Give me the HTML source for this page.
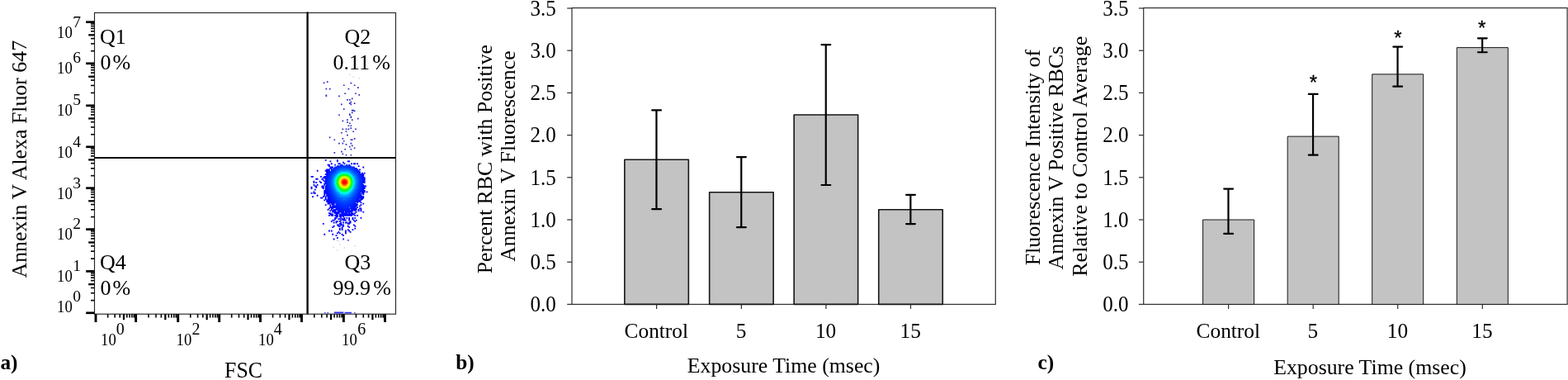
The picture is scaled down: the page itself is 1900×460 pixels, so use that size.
<!DOCTYPE html>
<html lang="en">
<head>
<meta charset="utf-8">
<title>Annexin V flow cytometry figure</title>
<style>
html,body{margin:0;padding:0;background:#fff;}
body{width:1900px;height:460px;overflow:hidden;}
svg{display:block;}
text{font-family:"Liberation Serif", "DejaVu Serif", serif;}
</style>
</head>
<body>
<svg width="1900" height="460" viewBox="0 0 1900 460" font-family='"Liberation Serif", "DejaVu Serif", serif' fill="#000">
<rect width="1900" height="460" fill="#fff"/>
<g id="panel-a">
<rect x="114.5" y="15.5" width="365.00" height="364.70" fill="none" stroke="#262626" stroke-width="1.15"/>
<g id="cloud" shape-rendering="auto">
<path fill="#0000ff" d="M406.24 260.23h2.53v1.43h-2.53zM406.79 259.68h1.43v2.53h-1.43zM396.25 243.12h2.53v1.43h-2.53zM396.80 242.57h1.43v2.53h-1.43zM396.25 241.70h2.53v1.43h-2.53zM396.80 241.15h1.43v2.53h-1.43zM437.60 238.85h2.53v1.43h-2.53zM438.15 238.30h1.43v2.53h-1.43z"/>
<path fill="#0005ff" d="M424.77 258.81h2.53v1.43h-2.53zM425.32 258.26h1.43v2.53h-1.43zM406.24 257.38h3.95v1.43h-3.95zM406.79 256.83h2.85v2.53h-2.85zM404.81 255.96h2.53v1.43h-2.53zM405.36 255.41h1.43v2.53h-1.43zM403.38 254.53h2.53v1.43h-2.53zM403.93 253.98h1.43v2.53h-1.43zM429.05 253.11h2.53v1.43h-2.53zM429.60 252.56h1.43v2.53h-1.43zM401.96 250.25h2.53v1.43h-2.53zM402.51 249.70h1.43v2.53h-1.43zM397.68 244.55h2.53v1.43h-2.53zM398.23 244.00h1.43v2.53h-1.43zM397.68 243.12h2.53v1.43h-2.53zM398.23 242.57h1.43v2.53h-1.43zM397.68 241.70h2.53v1.43h-2.53zM398.23 241.15h1.43v2.53h-1.43zM436.18 238.85h2.53v1.43h-2.53zM436.73 238.30h1.43v2.53h-1.43zM393.40 231.72h2.53v1.43h-2.53zM393.95 231.17h1.43v2.53h-1.43zM439.03 231.72h2.53v1.43h-2.53zM439.58 231.17h1.43v2.53h-1.43zM393.40 230.29h2.53v1.43h-2.53zM393.95 229.74h1.43v2.53h-1.43zM394.83 206.05h2.53v1.43h-2.53zM395.38 205.50h1.43v2.53h-1.43z"/>
<path fill="#000bff" d="M411.94 260.23h2.53v1.43h-2.53zM412.49 259.68h1.43v2.53h-1.43zM414.79 260.23h2.53v1.43h-2.53zM415.34 259.68h1.43v2.53h-1.43zM413.36 258.81h3.95v1.43h-3.95zM413.91 258.26h2.85v2.53h-2.85zM417.64 258.81h3.95v1.43h-3.95zM418.19 258.26h2.85v2.53h-2.85zM421.92 258.81h2.53v1.43h-2.53zM422.47 258.26h1.43v2.53h-1.43zM409.09 255.96h2.53v1.43h-2.53zM409.64 255.41h1.43v2.53h-1.43zM426.20 253.11h2.53v1.43h-2.53zM426.75 252.56h1.43v2.53h-1.43zM427.62 251.68h3.95v1.43h-3.95zM428.17 251.13h2.85v2.53h-2.85zM430.47 247.40h2.53v1.43h-2.53zM431.02 246.85h1.43v2.53h-1.43zM399.11 243.12h2.53v1.43h-2.53zM399.66 242.57h1.43v2.53h-1.43zM397.68 240.27h2.53v1.43h-2.53zM398.23 239.72h1.43v2.53h-1.43zM397.68 238.85h2.53v1.43h-2.53zM398.23 238.30h1.43v2.53h-1.43zM436.18 237.42h2.53v1.43h-2.53zM436.73 236.87h1.43v2.53h-1.43zM396.25 236.00h2.53v1.43h-2.53zM396.80 235.45h1.43v2.53h-1.43zM394.83 233.14h2.53v1.43h-2.53zM395.38 232.59h1.43v2.53h-1.43zM394.83 231.72h2.53v1.43h-2.53zM395.38 231.17h1.43v2.53h-1.43zM437.60 231.72h2.53v1.43h-2.53zM438.15 231.17h1.43v2.53h-1.43zM439.03 230.29h2.53v1.43h-2.53zM439.58 229.74h1.43v2.53h-1.43zM439.03 227.44h2.53v1.43h-2.53zM439.58 226.89h1.43v2.53h-1.43zM396.25 206.05h2.53v1.43h-2.53zM396.80 205.50h1.43v2.53h-1.43z"/>
<path fill="#0010ff" d="M416.22 258.81h2.53v1.43h-2.53zM416.77 258.26h1.43v2.53h-1.43zM414.79 257.38h2.53v1.43h-2.53zM415.34 256.83h1.43v2.53h-1.43zM417.64 257.38h2.53v1.43h-2.53zM418.19 256.83h1.43v2.53h-1.43zM413.36 255.96h2.53v1.43h-2.53zM413.91 255.41h1.43v2.53h-1.43zM419.07 255.96h2.53v1.43h-2.53zM419.62 255.41h1.43v2.53h-1.43zM421.92 255.96h2.53v1.43h-2.53zM422.47 255.41h1.43v2.53h-1.43zM410.51 254.53h2.53v1.43h-2.53zM411.06 253.98h1.43v2.53h-1.43zM421.92 254.53h2.53v1.43h-2.53zM422.47 253.98h1.43v2.53h-1.43zM424.77 254.53h2.53v1.43h-2.53zM425.32 253.98h1.43v2.53h-1.43zM426.20 251.68h2.53v1.43h-2.53zM426.75 251.13h1.43v2.53h-1.43zM427.62 250.25h2.53v1.43h-2.53zM428.17 249.70h1.43v2.53h-1.43zM403.38 248.83h2.53v1.43h-2.53zM403.93 248.28h1.43v2.53h-1.43zM427.62 248.83h3.95v1.43h-3.95zM428.17 248.28h2.85v2.53h-2.85zM429.05 247.40h2.53v1.43h-2.53zM429.60 246.85h1.43v2.53h-1.43zM401.96 245.98h2.53v1.43h-2.53zM402.51 245.43h1.43v2.53h-1.43zM400.53 244.55h3.95v1.43h-3.95zM401.08 244.00h2.85v2.53h-2.85zM400.53 243.12h2.53v1.43h-2.53zM401.08 242.57h1.43v2.53h-1.43zM431.90 243.12h2.53v1.43h-2.53zM432.45 242.57h1.43v2.53h-1.43zM399.11 241.70h2.53v1.43h-2.53zM399.66 241.15h1.43v2.53h-1.43zM433.32 241.70h2.53v1.43h-2.53zM433.88 241.15h1.43v2.53h-1.43zM399.11 240.27h2.53v1.43h-2.53zM399.66 239.72h1.43v2.53h-1.43zM397.68 237.42h2.53v1.43h-2.53zM398.23 236.87h1.43v2.53h-1.43zM434.75 237.42h2.53v1.43h-2.53zM435.30 236.87h1.43v2.53h-1.43zM397.68 236.00h2.53v1.43h-2.53zM398.23 235.45h1.43v2.53h-1.43zM396.25 234.57h2.53v1.43h-2.53zM396.80 234.02h1.43v2.53h-1.43zM396.25 233.14h2.53v1.43h-2.53zM396.80 232.59h1.43v2.53h-1.43zM394.83 230.29h2.53v1.43h-2.53zM395.38 229.74h1.43v2.53h-1.43zM437.60 230.29h2.53v1.43h-2.53zM438.15 229.74h1.43v2.53h-1.43zM394.83 228.87h2.53v1.43h-2.53zM395.38 228.32h1.43v2.53h-1.43zM437.60 228.87h2.53v1.43h-2.53zM438.15 228.32h1.43v2.53h-1.43zM439.03 226.02h2.53v1.43h-2.53zM439.58 225.47h1.43v2.53h-1.43zM439.03 224.59h2.53v1.43h-2.53zM439.58 224.04h1.43v2.53h-1.43zM393.40 218.89h2.53v1.43h-2.53zM393.95 218.34h1.43v2.53h-1.43zM439.03 218.89h2.53v1.43h-2.53zM439.58 218.34h1.43v2.53h-1.43zM439.03 217.46h2.53v1.43h-2.53zM439.58 216.91h1.43v2.53h-1.43zM439.03 216.04h2.53v1.43h-2.53zM439.58 215.49h1.43v2.53h-1.43zM393.40 214.61h2.53v1.43h-2.53zM393.95 214.06h1.43v2.53h-1.43zM439.03 214.61h2.53v1.43h-2.53zM439.58 214.06h1.43v2.53h-1.43zM437.60 211.76h2.53v1.43h-2.53zM438.15 211.21h1.43v2.53h-1.43zM394.83 210.33h2.53v1.43h-2.53zM395.38 209.78h1.43v2.53h-1.43zM437.60 210.33h2.53v1.43h-2.53zM438.15 209.78h1.43v2.53h-1.43zM396.25 208.91h2.53v1.43h-2.53zM396.80 208.36h1.43v2.53h-1.43zM396.25 207.48h2.53v1.43h-2.53zM396.80 206.93h1.43v2.53h-1.43z"/>
<path fill="#0015ff" d="M411.94 254.53h5.38v1.43h-5.38zM412.49 253.98h4.28v2.53h-4.28zM417.64 254.53h5.38v1.43h-5.38zM418.19 253.98h4.28v2.53h-4.28zM409.09 253.11h6.80v1.43h-6.80zM409.64 252.56h5.70v2.53h-5.70zM420.49 253.11h2.53v1.43h-2.53zM421.04 252.56h1.43v2.53h-1.43zM407.66 251.68h3.95v1.43h-3.95zM408.21 251.13h2.85v2.53h-2.85zM424.77 251.68h2.53v1.43h-2.53zM425.32 251.13h1.43v2.53h-1.43zM406.24 250.25h3.95v1.43h-3.95zM406.79 249.70h2.85v2.53h-2.85zM424.77 250.25h3.95v1.43h-3.95zM425.32 249.70h2.85v2.53h-2.85zM406.24 248.83h2.53v1.43h-2.53zM406.79 248.28h1.43v2.53h-1.43zM426.20 248.83h2.53v1.43h-2.53zM426.75 248.28h1.43v2.53h-1.43zM427.62 247.40h2.53v1.43h-2.53zM428.17 246.85h1.43v2.53h-1.43zM429.05 245.98h2.53v1.43h-2.53zM429.60 245.43h1.43v2.53h-1.43zM403.38 244.55h2.53v1.43h-2.53zM403.93 244.00h1.43v2.53h-1.43zM401.96 243.12h2.53v1.43h-2.53zM402.51 242.57h1.43v2.53h-1.43zM400.53 241.70h2.53v1.43h-2.53zM401.08 241.15h1.43v2.53h-1.43zM431.90 241.70h2.53v1.43h-2.53zM432.45 241.15h1.43v2.53h-1.43zM400.53 240.27h2.53v1.43h-2.53zM401.08 239.72h1.43v2.53h-1.43zM431.90 240.27h2.53v1.43h-2.53zM432.45 239.72h1.43v2.53h-1.43zM399.11 238.85h2.53v1.43h-2.53zM399.66 238.30h1.43v2.53h-1.43zM433.32 238.85h2.53v1.43h-2.53zM433.88 238.30h1.43v2.53h-1.43zM399.11 237.42h2.53v1.43h-2.53zM399.66 236.87h1.43v2.53h-1.43zM433.32 237.42h2.53v1.43h-2.53zM433.88 236.87h1.43v2.53h-1.43zM434.75 236.00h2.53v1.43h-2.53zM435.30 235.45h1.43v2.53h-1.43zM397.68 234.57h2.53v1.43h-2.53zM398.23 234.02h1.43v2.53h-1.43zM434.75 234.57h2.53v1.43h-2.53zM435.30 234.02h1.43v2.53h-1.43zM397.68 233.14h2.53v1.43h-2.53zM398.23 232.59h1.43v2.53h-1.43zM396.25 231.72h2.53v1.43h-2.53zM396.80 231.17h1.43v2.53h-1.43zM396.25 230.29h2.53v1.43h-2.53zM396.80 229.74h1.43v2.53h-1.43zM436.18 230.29h2.53v1.43h-2.53zM436.73 229.74h1.43v2.53h-1.43zM396.25 228.87h2.53v1.43h-2.53zM396.80 228.32h1.43v2.53h-1.43zM394.83 227.44h2.53v1.43h-2.53zM395.38 226.89h1.43v2.53h-1.43zM437.60 227.44h2.53v1.43h-2.53zM438.15 226.89h1.43v2.53h-1.43zM394.83 226.02h2.53v1.43h-2.53zM395.38 225.47h1.43v2.53h-1.43zM437.60 226.02h2.53v1.43h-2.53zM438.15 225.47h1.43v2.53h-1.43zM394.83 224.59h2.53v1.43h-2.53zM395.38 224.04h1.43v2.53h-1.43zM437.60 224.59h2.53v1.43h-2.53zM438.15 224.04h1.43v2.53h-1.43zM437.60 223.16h2.53v1.43h-2.53zM438.15 222.61h1.43v2.53h-1.43zM394.83 217.46h2.53v1.43h-2.53zM395.38 216.91h1.43v2.53h-1.43zM394.83 216.04h2.53v1.43h-2.53zM395.38 215.49h1.43v2.53h-1.43zM437.60 216.04h2.53v1.43h-2.53zM438.15 215.49h1.43v2.53h-1.43zM394.83 214.61h2.53v1.43h-2.53zM395.38 214.06h1.43v2.53h-1.43zM437.60 214.61h2.53v1.43h-2.53zM438.15 214.06h1.43v2.53h-1.43zM394.83 213.18h2.53v1.43h-2.53zM395.38 212.63h1.43v2.53h-1.43zM437.60 213.18h2.53v1.43h-2.53zM438.15 212.63h1.43v2.53h-1.43zM396.25 210.33h2.53v1.43h-2.53zM396.80 209.78h1.43v2.53h-1.43zM397.68 207.48h2.53v1.43h-2.53zM398.23 206.93h1.43v2.53h-1.43z"/>
<path fill="#001fff" d="M414.79 253.11h6.80v1.43h-6.80zM415.34 252.56h5.70v2.53h-5.70zM410.51 251.68h12.51v1.43h-12.51zM411.06 251.13h11.41v2.53h-11.41zM409.09 250.25h5.38v1.43h-5.38zM409.64 249.70h4.28v2.53h-4.28zM407.66 248.83h3.95v1.43h-3.95zM408.21 248.28h2.85v2.53h-2.85zM423.34 248.83h3.95v1.43h-3.95zM423.89 248.28h2.85v2.53h-2.85zM407.66 247.40h2.53v1.43h-2.53zM408.21 246.85h1.43v2.53h-1.43zM424.77 247.40h3.95v1.43h-3.95zM425.32 246.85h2.85v2.53h-2.85zM426.20 245.98h3.95v1.43h-3.95zM426.75 245.43h2.85v2.53h-2.85zM427.62 244.55h2.53v1.43h-2.53zM428.17 244.00h1.43v2.53h-1.43zM403.38 243.12h2.53v1.43h-2.53zM403.93 242.57h1.43v2.53h-1.43zM429.05 243.12h2.53v1.43h-2.53zM429.60 242.57h1.43v2.53h-1.43zM401.96 241.70h3.95v1.43h-3.95zM402.51 241.15h2.85v2.53h-2.85zM429.05 241.70h3.95v1.43h-3.95zM429.60 241.15h2.85v2.53h-2.85zM401.96 240.27h2.53v1.43h-2.53zM402.51 239.72h1.43v2.53h-1.43zM430.47 240.27h2.53v1.43h-2.53zM431.02 239.72h1.43v2.53h-1.43zM400.53 238.85h2.53v1.43h-2.53zM401.08 238.30h1.43v2.53h-1.43zM431.90 238.85h2.53v1.43h-2.53zM432.45 238.30h1.43v2.53h-1.43zM400.53 237.42h2.53v1.43h-2.53zM401.08 236.87h1.43v2.53h-1.43zM431.90 237.42h2.53v1.43h-2.53zM432.45 236.87h1.43v2.53h-1.43zM399.11 236.00h2.53v1.43h-2.53zM399.66 235.45h1.43v2.53h-1.43zM433.32 236.00h2.53v1.43h-2.53zM433.88 235.45h1.43v2.53h-1.43zM399.11 234.57h2.53v1.43h-2.53zM399.66 234.02h1.43v2.53h-1.43zM433.32 234.57h2.53v1.43h-2.53zM433.88 234.02h1.43v2.53h-1.43zM397.68 231.72h2.53v1.43h-2.53zM398.23 231.17h1.43v2.53h-1.43zM434.75 231.72h2.53v1.43h-2.53zM435.30 231.17h1.43v2.53h-1.43zM397.68 230.29h2.53v1.43h-2.53zM398.23 229.74h1.43v2.53h-1.43zM434.75 230.29h2.53v1.43h-2.53zM435.30 229.74h1.43v2.53h-1.43zM436.18 228.87h2.53v1.43h-2.53zM436.73 228.32h1.43v2.53h-1.43zM396.25 227.44h2.53v1.43h-2.53zM396.80 226.89h1.43v2.53h-1.43zM436.18 227.44h2.53v1.43h-2.53zM436.73 226.89h1.43v2.53h-1.43zM396.25 226.02h2.53v1.43h-2.53zM396.80 225.47h1.43v2.53h-1.43zM436.18 226.02h2.53v1.43h-2.53zM436.73 225.47h1.43v2.53h-1.43zM394.83 221.74h2.53v1.43h-2.53zM395.38 221.19h1.43v2.53h-1.43zM394.83 220.31h2.53v1.43h-2.53zM395.38 219.76h1.43v2.53h-1.43zM437.60 220.31h2.53v1.43h-2.53zM438.15 219.76h1.43v2.53h-1.43zM394.83 218.89h2.53v1.43h-2.53zM395.38 218.34h1.43v2.53h-1.43zM437.60 218.89h2.53v1.43h-2.53zM438.15 218.34h1.43v2.53h-1.43zM437.60 217.46h2.53v1.43h-2.53zM438.15 216.91h1.43v2.53h-1.43zM396.25 214.61h2.53v1.43h-2.53zM396.80 214.06h1.43v2.53h-1.43zM436.18 214.61h2.53v1.43h-2.53zM436.73 214.06h1.43v2.53h-1.43zM396.25 213.18h2.53v1.43h-2.53zM396.80 212.63h1.43v2.53h-1.43zM436.18 213.18h2.53v1.43h-2.53zM436.73 212.63h1.43v2.53h-1.43zM396.25 211.76h2.53v1.43h-2.53zM396.80 211.21h1.43v2.53h-1.43zM436.18 211.76h2.53v1.43h-2.53zM436.73 211.21h1.43v2.53h-1.43zM397.68 210.33h2.53v1.43h-2.53zM398.23 209.78h1.43v2.53h-1.43zM434.75 210.33h2.53v1.43h-2.53zM435.30 209.78h1.43v2.53h-1.43zM397.68 208.91h2.53v1.43h-2.53zM398.23 208.36h1.43v2.53h-1.43zM433.32 207.48h2.53v1.43h-2.53zM433.88 206.93h1.43v2.53h-1.43zM431.90 206.05h2.53v1.43h-2.53zM432.45 205.50h1.43v2.53h-1.43zM430.47 204.63h2.53v1.43h-2.53zM431.02 204.08h1.43v2.53h-1.43z"/>
<path fill="#0028ff" d="M413.36 250.25h8.23v1.43h-8.23zM413.91 249.70h7.13v2.53h-7.13zM410.51 248.83h6.80v1.43h-6.80zM411.06 248.28h5.70v2.53h-5.70zM417.64 248.83h5.38v1.43h-5.38zM418.19 248.28h4.28v2.53h-4.28zM409.09 247.40h3.95v1.43h-3.95zM409.64 246.85h2.85v2.53h-2.85zM421.92 247.40h3.95v1.43h-3.95zM422.47 246.85h2.85v2.53h-2.85zM407.66 245.98h3.95v1.43h-3.95zM408.21 245.43h2.85v2.53h-2.85zM423.34 245.98h3.95v1.43h-3.95zM423.89 245.43h2.85v2.53h-2.85zM406.24 244.55h2.53v1.43h-2.53zM406.79 244.00h1.43v2.53h-1.43zM426.20 244.55h2.53v1.43h-2.53zM426.75 244.00h1.43v2.53h-1.43zM404.81 243.12h3.95v1.43h-3.95zM405.36 242.57h2.85v2.53h-2.85zM427.62 243.12h2.53v1.43h-2.53zM428.17 242.57h1.43v2.53h-1.43zM404.81 241.70h2.53v1.43h-2.53zM405.36 241.15h1.43v2.53h-1.43zM427.62 241.70h2.53v1.43h-2.53zM428.17 241.15h1.43v2.53h-1.43zM403.38 240.27h2.53v1.43h-2.53zM403.93 239.72h1.43v2.53h-1.43zM429.05 240.27h2.53v1.43h-2.53zM429.60 239.72h1.43v2.53h-1.43zM401.96 238.85h2.53v1.43h-2.53zM402.51 238.30h1.43v2.53h-1.43zM430.47 238.85h2.53v1.43h-2.53zM431.02 238.30h1.43v2.53h-1.43zM401.96 237.42h2.53v1.43h-2.53zM402.51 236.87h1.43v2.53h-1.43zM430.47 237.42h2.53v1.43h-2.53zM431.02 236.87h1.43v2.53h-1.43zM400.53 236.00h2.53v1.43h-2.53zM401.08 235.45h1.43v2.53h-1.43zM431.90 236.00h2.53v1.43h-2.53zM432.45 235.45h1.43v2.53h-1.43zM400.53 234.57h2.53v1.43h-2.53zM401.08 234.02h1.43v2.53h-1.43zM431.90 234.57h2.53v1.43h-2.53zM432.45 234.02h1.43v2.53h-1.43zM399.11 233.14h2.53v1.43h-2.53zM399.66 232.59h1.43v2.53h-1.43zM433.32 233.14h2.53v1.43h-2.53zM433.88 232.59h1.43v2.53h-1.43zM399.11 231.72h2.53v1.43h-2.53zM399.66 231.17h1.43v2.53h-1.43zM433.32 231.72h2.53v1.43h-2.53zM433.88 231.17h1.43v2.53h-1.43zM397.68 228.87h2.53v1.43h-2.53zM398.23 228.32h1.43v2.53h-1.43zM434.75 228.87h2.53v1.43h-2.53zM435.30 228.32h1.43v2.53h-1.43zM397.68 227.44h2.53v1.43h-2.53zM398.23 226.89h1.43v2.53h-1.43zM434.75 227.44h2.53v1.43h-2.53zM435.30 226.89h1.43v2.53h-1.43zM396.25 224.59h2.53v1.43h-2.53zM396.80 224.04h1.43v2.53h-1.43zM436.18 224.59h2.53v1.43h-2.53zM436.73 224.04h1.43v2.53h-1.43zM396.25 223.16h2.53v1.43h-2.53zM396.80 222.61h1.43v2.53h-1.43zM436.18 223.16h2.53v1.43h-2.53zM436.73 222.61h1.43v2.53h-1.43zM396.25 221.74h2.53v1.43h-2.53zM396.80 221.19h1.43v2.53h-1.43zM436.18 221.74h2.53v1.43h-2.53zM436.73 221.19h1.43v2.53h-1.43zM396.25 220.31h2.53v1.43h-2.53zM396.80 219.76h1.43v2.53h-1.43zM436.18 220.31h2.53v1.43h-2.53zM436.73 219.76h1.43v2.53h-1.43zM396.25 218.89h2.53v1.43h-2.53zM396.80 218.34h1.43v2.53h-1.43zM436.18 218.89h2.53v1.43h-2.53zM436.73 218.34h1.43v2.53h-1.43zM396.25 217.46h2.53v1.43h-2.53zM396.80 216.91h1.43v2.53h-1.43zM436.18 217.46h2.53v1.43h-2.53zM436.73 216.91h1.43v2.53h-1.43zM396.25 216.04h2.53v1.43h-2.53zM396.80 215.49h1.43v2.53h-1.43zM436.18 216.04h2.53v1.43h-2.53zM436.73 215.49h1.43v2.53h-1.43zM397.68 213.18h2.53v1.43h-2.53zM398.23 212.63h1.43v2.53h-1.43zM434.75 213.18h2.53v1.43h-2.53zM435.30 212.63h1.43v2.53h-1.43zM397.68 211.76h2.53v1.43h-2.53zM398.23 211.21h1.43v2.53h-1.43zM434.75 211.76h2.53v1.43h-2.53zM435.30 211.21h1.43v2.53h-1.43zM399.11 210.33h2.53v1.43h-2.53zM399.66 209.78h1.43v2.53h-1.43zM399.11 208.91h2.53v1.43h-2.53zM399.66 208.36h1.43v2.53h-1.43zM433.32 208.91h2.53v1.43h-2.53zM433.88 208.36h1.43v2.53h-1.43zM400.53 207.48h2.53v1.43h-2.53zM401.08 206.93h1.43v2.53h-1.43zM431.90 207.48h2.53v1.43h-2.53zM432.45 206.93h1.43v2.53h-1.43zM401.96 206.05h2.53v1.43h-2.53zM402.51 205.50h1.43v2.53h-1.43zM430.47 206.05h2.53v1.43h-2.53zM431.02 205.50h1.43v2.53h-1.43zM403.38 204.63h2.53v1.43h-2.53zM403.93 204.08h1.43v2.53h-1.43zM429.05 204.63h2.53v1.43h-2.53zM429.60 204.08h1.43v2.53h-1.43zM404.81 203.20h2.53v1.43h-2.53zM405.36 202.65h1.43v2.53h-1.43zM427.62 203.20h2.53v1.43h-2.53zM428.17 202.65h1.43v2.53h-1.43zM407.66 201.78h2.53v1.43h-2.53zM408.21 201.23h1.43v2.53h-1.43zM411.94 200.35h3.95v1.43h-3.95zM412.49 199.80h2.85v2.53h-2.85zM419.07 200.35h2.53v1.43h-2.53zM419.62 199.80h1.43v2.53h-1.43zM421.92 200.35h2.53v1.43h-2.53zM422.47 199.80h1.43v2.53h-1.43z"/>
<path fill="#0032ff" d="M416.22 248.83h2.53v1.43h-2.53zM416.77 248.28h1.43v2.53h-1.43zM411.94 247.40h11.08v1.43h-11.08zM412.49 246.85h9.98v2.53h-9.98zM410.51 245.98h3.95v1.43h-3.95zM411.06 245.43h2.85v2.53h-2.85zM420.49 245.98h3.95v1.43h-3.95zM421.04 245.43h2.85v2.53h-2.85zM407.66 244.55h3.95v1.43h-3.95zM408.21 244.00h2.85v2.53h-2.85zM423.34 244.55h3.95v1.43h-3.95zM423.89 244.00h2.85v2.53h-2.85zM407.66 243.12h2.53v1.43h-2.53zM408.21 242.57h1.43v2.53h-1.43zM424.77 243.12h3.95v1.43h-3.95zM425.32 242.57h2.85v2.53h-2.85zM406.24 241.70h2.53v1.43h-2.53zM406.79 241.15h1.43v2.53h-1.43zM426.20 241.70h2.53v1.43h-2.53zM426.75 241.15h1.43v2.53h-1.43zM404.81 240.27h2.53v1.43h-2.53zM405.36 239.72h1.43v2.53h-1.43zM427.62 240.27h2.53v1.43h-2.53zM428.17 239.72h1.43v2.53h-1.43zM403.38 238.85h2.53v1.43h-2.53zM403.93 238.30h1.43v2.53h-1.43zM429.05 238.85h2.53v1.43h-2.53zM429.60 238.30h1.43v2.53h-1.43zM403.38 237.42h2.53v1.43h-2.53zM403.93 236.87h1.43v2.53h-1.43zM429.05 237.42h2.53v1.43h-2.53zM429.60 236.87h1.43v2.53h-1.43zM401.96 236.00h2.53v1.43h-2.53zM402.51 235.45h1.43v2.53h-1.43zM430.47 236.00h2.53v1.43h-2.53zM431.02 235.45h1.43v2.53h-1.43zM401.96 234.57h2.53v1.43h-2.53zM402.51 234.02h1.43v2.53h-1.43zM430.47 234.57h2.53v1.43h-2.53zM431.02 234.02h1.43v2.53h-1.43zM400.53 233.14h2.53v1.43h-2.53zM401.08 232.59h1.43v2.53h-1.43zM431.90 233.14h2.53v1.43h-2.53zM432.45 232.59h1.43v2.53h-1.43zM400.53 231.72h2.53v1.43h-2.53zM401.08 231.17h1.43v2.53h-1.43zM431.90 231.72h2.53v1.43h-2.53zM432.45 231.17h1.43v2.53h-1.43zM399.11 230.29h2.53v1.43h-2.53zM399.66 229.74h1.43v2.53h-1.43zM433.32 230.29h2.53v1.43h-2.53zM433.88 229.74h1.43v2.53h-1.43zM399.11 228.87h2.53v1.43h-2.53zM399.66 228.32h1.43v2.53h-1.43zM433.32 228.87h2.53v1.43h-2.53zM433.88 228.32h1.43v2.53h-1.43zM397.68 226.02h2.53v1.43h-2.53zM398.23 225.47h1.43v2.53h-1.43zM434.75 226.02h2.53v1.43h-2.53zM435.30 225.47h1.43v2.53h-1.43zM397.68 224.59h2.53v1.43h-2.53zM398.23 224.04h1.43v2.53h-1.43zM434.75 224.59h2.53v1.43h-2.53zM435.30 224.04h1.43v2.53h-1.43zM397.68 223.16h2.53v1.43h-2.53zM398.23 222.61h1.43v2.53h-1.43zM434.75 223.16h2.53v1.43h-2.53zM435.30 222.61h1.43v2.53h-1.43zM397.68 221.74h2.53v1.43h-2.53zM398.23 221.19h1.43v2.53h-1.43zM434.75 221.74h2.53v1.43h-2.53zM435.30 221.19h1.43v2.53h-1.43zM397.68 220.31h2.53v1.43h-2.53zM398.23 219.76h1.43v2.53h-1.43zM434.75 220.31h2.53v1.43h-2.53zM435.30 219.76h1.43v2.53h-1.43zM397.68 218.89h2.53v1.43h-2.53zM398.23 218.34h1.43v2.53h-1.43zM434.75 218.89h2.53v1.43h-2.53zM435.30 218.34h1.43v2.53h-1.43zM397.68 217.46h2.53v1.43h-2.53zM398.23 216.91h1.43v2.53h-1.43zM434.75 217.46h2.53v1.43h-2.53zM435.30 216.91h1.43v2.53h-1.43zM397.68 216.04h2.53v1.43h-2.53zM398.23 215.49h1.43v2.53h-1.43zM434.75 216.04h2.53v1.43h-2.53zM435.30 215.49h1.43v2.53h-1.43zM397.68 214.61h2.53v1.43h-2.53zM398.23 214.06h1.43v2.53h-1.43zM434.75 214.61h2.53v1.43h-2.53zM435.30 214.06h1.43v2.53h-1.43zM399.11 211.76h2.53v1.43h-2.53zM399.66 211.21h1.43v2.53h-1.43zM433.32 211.76h2.53v1.43h-2.53zM433.88 211.21h1.43v2.53h-1.43zM433.32 210.33h2.53v1.43h-2.53zM433.88 209.78h1.43v2.53h-1.43zM400.53 208.91h2.53v1.43h-2.53zM401.08 208.36h1.43v2.53h-1.43zM431.90 208.91h2.53v1.43h-2.53zM432.45 208.36h1.43v2.53h-1.43zM401.96 207.48h2.53v1.43h-2.53zM402.51 206.93h1.43v2.53h-1.43zM430.47 207.48h2.53v1.43h-2.53zM431.02 206.93h1.43v2.53h-1.43zM403.38 206.05h2.53v1.43h-2.53zM403.93 205.50h1.43v2.53h-1.43zM429.05 206.05h2.53v1.43h-2.53zM429.60 205.50h1.43v2.53h-1.43zM404.81 204.63h2.53v1.43h-2.53zM405.36 204.08h1.43v2.53h-1.43zM427.62 204.63h2.53v1.43h-2.53zM428.17 204.08h1.43v2.53h-1.43zM406.24 203.20h3.95v1.43h-3.95zM406.79 202.65h2.85v2.53h-2.85zM424.77 203.20h3.95v1.43h-3.95zM425.32 202.65h2.85v2.53h-2.85zM409.09 201.78h3.95v1.43h-3.95zM409.64 201.23h2.85v2.53h-2.85zM421.92 201.78h3.95v1.43h-3.95zM422.47 201.23h2.85v2.53h-2.85z"/>
<path fill="#003cff" d="M413.36 245.98h8.23v1.43h-8.23zM413.91 245.43h7.13v2.53h-7.13zM410.51 244.55h6.80v1.43h-6.80zM411.06 244.00h5.70v2.53h-5.70zM417.64 244.55h6.80v1.43h-6.80zM418.19 244.00h5.70v2.53h-5.70zM409.09 243.12h3.95v1.43h-3.95zM409.64 242.57h2.85v2.53h-2.85zM421.92 243.12h3.95v1.43h-3.95zM422.47 242.57h2.85v2.53h-2.85zM407.66 241.70h3.95v1.43h-3.95zM408.21 241.15h2.85v2.53h-2.85zM423.34 241.70h3.95v1.43h-3.95zM423.89 241.15h2.85v2.53h-2.85zM406.24 240.27h2.53v1.43h-2.53zM406.79 239.72h1.43v2.53h-1.43zM426.20 240.27h2.53v1.43h-2.53zM426.75 239.72h1.43v2.53h-1.43zM404.81 238.85h3.95v1.43h-3.95zM405.36 238.30h2.85v2.53h-2.85zM426.20 238.85h3.95v1.43h-3.95zM426.75 238.30h2.85v2.53h-2.85zM404.81 237.42h2.53v1.43h-2.53zM405.36 236.87h1.43v2.53h-1.43zM427.62 237.42h2.53v1.43h-2.53zM428.17 236.87h1.43v2.53h-1.43zM403.38 236.00h2.53v1.43h-2.53zM403.93 235.45h1.43v2.53h-1.43zM429.05 236.00h2.53v1.43h-2.53zM429.60 235.45h1.43v2.53h-1.43zM403.38 234.57h2.53v1.43h-2.53zM403.93 234.02h1.43v2.53h-1.43zM401.96 233.14h2.53v1.43h-2.53zM402.51 232.59h1.43v2.53h-1.43zM430.47 233.14h2.53v1.43h-2.53zM431.02 232.59h1.43v2.53h-1.43zM400.53 230.29h2.53v1.43h-2.53zM401.08 229.74h1.43v2.53h-1.43zM431.90 230.29h2.53v1.43h-2.53zM432.45 229.74h1.43v2.53h-1.43zM400.53 228.87h2.53v1.43h-2.53zM401.08 228.32h1.43v2.53h-1.43zM431.90 228.87h2.53v1.43h-2.53zM432.45 228.32h1.43v2.53h-1.43zM399.11 227.44h2.53v1.43h-2.53zM399.66 226.89h1.43v2.53h-1.43zM433.32 227.44h2.53v1.43h-2.53zM433.88 226.89h1.43v2.53h-1.43zM399.11 226.02h2.53v1.43h-2.53zM399.66 225.47h1.43v2.53h-1.43zM433.32 226.02h2.53v1.43h-2.53zM433.88 225.47h1.43v2.53h-1.43zM399.11 224.59h2.53v1.43h-2.53zM399.66 224.04h1.43v2.53h-1.43zM433.32 224.59h2.53v1.43h-2.53zM433.88 224.04h1.43v2.53h-1.43zM399.11 216.04h2.53v1.43h-2.53zM399.66 215.49h1.43v2.53h-1.43zM399.11 214.61h2.53v1.43h-2.53zM399.66 214.06h1.43v2.53h-1.43zM433.32 214.61h2.53v1.43h-2.53zM433.88 214.06h1.43v2.53h-1.43zM399.11 213.18h2.53v1.43h-2.53zM399.66 212.63h1.43v2.53h-1.43zM433.32 213.18h2.53v1.43h-2.53zM433.88 212.63h1.43v2.53h-1.43zM400.53 211.76h2.53v1.43h-2.53zM401.08 211.21h1.43v2.53h-1.43zM431.90 211.76h2.53v1.43h-2.53zM432.45 211.21h1.43v2.53h-1.43zM400.53 210.33h2.53v1.43h-2.53zM401.08 209.78h1.43v2.53h-1.43zM431.90 210.33h2.53v1.43h-2.53zM432.45 209.78h1.43v2.53h-1.43zM401.96 208.91h2.53v1.43h-2.53zM402.51 208.36h1.43v2.53h-1.43zM430.47 208.91h2.53v1.43h-2.53zM431.02 208.36h1.43v2.53h-1.43zM403.38 207.48h2.53v1.43h-2.53zM403.93 206.93h1.43v2.53h-1.43zM429.05 207.48h2.53v1.43h-2.53zM429.60 206.93h1.43v2.53h-1.43zM404.81 206.05h2.53v1.43h-2.53zM405.36 205.50h1.43v2.53h-1.43zM427.62 206.05h2.53v1.43h-2.53zM428.17 205.50h1.43v2.53h-1.43zM406.24 204.63h2.53v1.43h-2.53zM406.79 204.08h1.43v2.53h-1.43zM426.20 204.63h2.53v1.43h-2.53zM426.75 204.08h1.43v2.53h-1.43zM409.09 203.20h2.53v1.43h-2.53zM409.64 202.65h1.43v2.53h-1.43zM423.34 203.20h2.53v1.43h-2.53zM423.89 202.65h1.43v2.53h-1.43zM411.94 201.78h11.08v1.43h-11.08zM412.49 201.23h9.98v2.53h-9.98z"/>
<path fill="#004cff" d="M416.22 244.55h2.53v1.43h-2.53zM416.77 244.00h1.43v2.53h-1.43zM411.94 243.12h11.08v1.43h-11.08zM412.49 242.57h9.98v2.53h-9.98zM410.51 241.70h3.95v1.43h-3.95zM411.06 241.15h2.85v2.53h-2.85zM420.49 241.70h3.95v1.43h-3.95zM421.04 241.15h2.85v2.53h-2.85zM407.66 240.27h3.95v1.43h-3.95zM408.21 239.72h2.85v2.53h-2.85zM423.34 240.27h3.95v1.43h-3.95zM423.89 239.72h2.85v2.53h-2.85zM407.66 238.85h2.53v1.43h-2.53zM408.21 238.30h1.43v2.53h-1.43zM424.77 238.85h2.53v1.43h-2.53zM425.32 238.30h1.43v2.53h-1.43zM406.24 237.42h2.53v1.43h-2.53zM406.79 236.87h1.43v2.53h-1.43zM426.20 237.42h2.53v1.43h-2.53zM426.75 236.87h1.43v2.53h-1.43zM404.81 236.00h2.53v1.43h-2.53zM405.36 235.45h1.43v2.53h-1.43zM427.62 236.00h2.53v1.43h-2.53zM428.17 235.45h1.43v2.53h-1.43zM429.05 234.57h2.53v1.43h-2.53zM429.60 234.02h1.43v2.53h-1.43zM403.38 233.14h2.53v1.43h-2.53zM403.93 232.59h1.43v2.53h-1.43zM429.05 233.14h2.53v1.43h-2.53zM429.60 232.59h1.43v2.53h-1.43zM401.96 231.72h2.53v1.43h-2.53zM402.51 231.17h1.43v2.53h-1.43zM430.47 231.72h2.53v1.43h-2.53zM431.02 231.17h1.43v2.53h-1.43zM401.96 230.29h2.53v1.43h-2.53zM402.51 229.74h1.43v2.53h-1.43zM430.47 230.29h2.53v1.43h-2.53zM431.02 229.74h1.43v2.53h-1.43zM400.53 227.44h2.53v1.43h-2.53zM401.08 226.89h1.43v2.53h-1.43zM431.90 227.44h2.53v1.43h-2.53zM432.45 226.89h1.43v2.53h-1.43zM400.53 226.02h2.53v1.43h-2.53zM401.08 225.47h1.43v2.53h-1.43zM431.90 226.02h2.53v1.43h-2.53zM432.45 225.47h1.43v2.53h-1.43zM399.11 223.16h2.53v1.43h-2.53zM399.66 222.61h1.43v2.53h-1.43zM433.32 223.16h2.53v1.43h-2.53zM433.88 222.61h1.43v2.53h-1.43zM399.11 221.74h2.53v1.43h-2.53zM399.66 221.19h1.43v2.53h-1.43zM433.32 221.74h2.53v1.43h-2.53zM433.88 221.19h1.43v2.53h-1.43zM399.11 220.31h2.53v1.43h-2.53zM399.66 219.76h1.43v2.53h-1.43zM433.32 220.31h2.53v1.43h-2.53zM433.88 219.76h1.43v2.53h-1.43zM399.11 218.89h2.53v1.43h-2.53zM399.66 218.34h1.43v2.53h-1.43zM433.32 218.89h2.53v1.43h-2.53zM433.88 218.34h1.43v2.53h-1.43zM399.11 217.46h2.53v1.43h-2.53zM399.66 216.91h1.43v2.53h-1.43zM433.32 217.46h2.53v1.43h-2.53zM433.88 216.91h1.43v2.53h-1.43zM433.32 216.04h2.53v1.43h-2.53zM433.88 215.49h1.43v2.53h-1.43zM400.53 214.61h2.53v1.43h-2.53zM401.08 214.06h1.43v2.53h-1.43zM400.53 213.18h2.53v1.43h-2.53zM401.08 212.63h1.43v2.53h-1.43zM431.90 213.18h2.53v1.43h-2.53zM432.45 212.63h1.43v2.53h-1.43zM401.96 210.33h2.53v1.43h-2.53zM402.51 209.78h1.43v2.53h-1.43zM430.47 210.33h2.53v1.43h-2.53zM431.02 209.78h1.43v2.53h-1.43zM403.38 208.91h2.53v1.43h-2.53zM403.93 208.36h1.43v2.53h-1.43zM429.05 208.91h2.53v1.43h-2.53zM429.60 208.36h1.43v2.53h-1.43zM404.81 207.48h2.53v1.43h-2.53zM405.36 206.93h1.43v2.53h-1.43zM427.62 207.48h2.53v1.43h-2.53zM428.17 206.93h1.43v2.53h-1.43zM406.24 206.05h2.53v1.43h-2.53zM406.79 205.50h1.43v2.53h-1.43zM426.20 206.05h2.53v1.43h-2.53zM426.75 205.50h1.43v2.53h-1.43zM407.66 204.63h3.95v1.43h-3.95zM408.21 204.08h2.85v2.53h-2.85zM423.34 204.63h3.95v1.43h-3.95zM423.89 204.08h2.85v2.53h-2.85zM410.51 203.20h6.80v1.43h-6.80zM411.06 202.65h5.70v2.53h-5.70zM417.64 203.20h6.80v1.43h-6.80zM418.19 202.65h5.70v2.53h-5.70z"/>
<path fill="#005eff" d="M413.36 241.70h8.23v1.43h-8.23zM413.91 241.15h7.13v2.53h-7.13zM410.51 240.27h5.38v1.43h-5.38zM411.06 239.72h4.28v2.53h-4.28zM419.07 240.27h5.38v1.43h-5.38zM419.62 239.72h4.28v2.53h-4.28zM409.09 238.85h3.95v1.43h-3.95zM409.64 238.30h2.85v2.53h-2.85zM421.92 238.85h3.95v1.43h-3.95zM422.47 238.30h2.85v2.53h-2.85zM407.66 237.42h2.53v1.43h-2.53zM408.21 236.87h1.43v2.53h-1.43zM424.77 237.42h2.53v1.43h-2.53zM425.32 236.87h1.43v2.53h-1.43zM406.24 236.00h2.53v1.43h-2.53zM406.79 235.45h1.43v2.53h-1.43zM426.20 236.00h2.53v1.43h-2.53zM426.75 235.45h1.43v2.53h-1.43zM404.81 234.57h3.95v1.43h-3.95zM405.36 234.02h2.85v2.53h-2.85zM426.20 234.57h3.95v1.43h-3.95zM426.75 234.02h2.85v2.53h-2.85zM404.81 233.14h2.53v1.43h-2.53zM405.36 232.59h1.43v2.53h-1.43zM427.62 233.14h2.53v1.43h-2.53zM428.17 232.59h1.43v2.53h-1.43zM403.38 231.72h2.53v1.43h-2.53zM403.93 231.17h1.43v2.53h-1.43zM429.05 231.72h2.53v1.43h-2.53zM429.60 231.17h1.43v2.53h-1.43zM403.38 230.29h2.53v1.43h-2.53zM403.93 229.74h1.43v2.53h-1.43zM429.05 230.29h2.53v1.43h-2.53zM429.60 229.74h1.43v2.53h-1.43zM401.96 228.87h2.53v1.43h-2.53zM402.51 228.32h1.43v2.53h-1.43zM430.47 228.87h2.53v1.43h-2.53zM431.02 228.32h1.43v2.53h-1.43zM401.96 227.44h2.53v1.43h-2.53zM402.51 226.89h1.43v2.53h-1.43zM430.47 227.44h2.53v1.43h-2.53zM431.02 226.89h1.43v2.53h-1.43zM400.53 224.59h2.53v1.43h-2.53zM401.08 224.04h1.43v2.53h-1.43zM431.90 224.59h2.53v1.43h-2.53zM432.45 224.04h1.43v2.53h-1.43zM400.53 223.16h2.53v1.43h-2.53zM401.08 222.61h1.43v2.53h-1.43zM431.90 223.16h2.53v1.43h-2.53zM432.45 222.61h1.43v2.53h-1.43zM400.53 221.74h2.53v1.43h-2.53zM401.08 221.19h1.43v2.53h-1.43zM431.90 221.74h2.53v1.43h-2.53zM432.45 221.19h1.43v2.53h-1.43zM400.53 220.31h2.53v1.43h-2.53zM401.08 219.76h1.43v2.53h-1.43zM431.90 220.31h2.53v1.43h-2.53zM432.45 219.76h1.43v2.53h-1.43zM400.53 218.89h2.53v1.43h-2.53zM401.08 218.34h1.43v2.53h-1.43zM431.90 218.89h2.53v1.43h-2.53zM432.45 218.34h1.43v2.53h-1.43zM400.53 217.46h2.53v1.43h-2.53zM401.08 216.91h1.43v2.53h-1.43zM431.90 217.46h2.53v1.43h-2.53zM432.45 216.91h1.43v2.53h-1.43zM400.53 216.04h2.53v1.43h-2.53zM401.08 215.49h1.43v2.53h-1.43zM431.90 216.04h2.53v1.43h-2.53zM432.45 215.49h1.43v2.53h-1.43zM431.90 214.61h2.53v1.43h-2.53zM432.45 214.06h1.43v2.53h-1.43zM401.96 213.18h2.53v1.43h-2.53zM402.51 212.63h1.43v2.53h-1.43zM430.47 213.18h2.53v1.43h-2.53zM431.02 212.63h1.43v2.53h-1.43zM401.96 211.76h2.53v1.43h-2.53zM402.51 211.21h1.43v2.53h-1.43zM430.47 211.76h2.53v1.43h-2.53zM431.02 211.21h1.43v2.53h-1.43zM403.38 210.33h2.53v1.43h-2.53zM403.93 209.78h1.43v2.53h-1.43zM429.05 210.33h2.53v1.43h-2.53zM429.60 209.78h1.43v2.53h-1.43zM404.81 208.91h2.53v1.43h-2.53zM405.36 208.36h1.43v2.53h-1.43zM427.62 208.91h2.53v1.43h-2.53zM428.17 208.36h1.43v2.53h-1.43zM406.24 207.48h2.53v1.43h-2.53zM406.79 206.93h1.43v2.53h-1.43zM426.20 207.48h2.53v1.43h-2.53zM426.75 206.93h1.43v2.53h-1.43zM407.66 206.05h2.53v1.43h-2.53zM408.21 205.50h1.43v2.53h-1.43zM424.77 206.05h2.53v1.43h-2.53zM425.32 205.50h1.43v2.53h-1.43zM410.51 204.63h3.95v1.43h-3.95zM411.06 204.08h2.85v2.53h-2.85zM420.49 204.63h3.95v1.43h-3.95zM421.04 204.08h2.85v2.53h-2.85zM416.22 203.20h2.53v1.43h-2.53zM416.77 202.65h1.43v2.53h-1.43z"/>
<path fill="#006fff" d="M414.79 240.27h5.38v1.43h-5.38zM415.34 239.72h4.28v2.53h-4.28zM411.94 238.85h5.38v1.43h-5.38zM412.49 238.30h4.28v2.53h-4.28zM417.64 238.85h5.38v1.43h-5.38zM418.19 238.30h4.28v2.53h-4.28zM409.09 237.42h3.95v1.43h-3.95zM409.64 236.87h2.85v2.53h-2.85zM421.92 237.42h3.95v1.43h-3.95zM422.47 236.87h2.85v2.53h-2.85zM407.66 236.00h3.95v1.43h-3.95zM408.21 235.45h2.85v2.53h-2.85zM423.34 236.00h3.95v1.43h-3.95zM423.89 235.45h2.85v2.53h-2.85zM407.66 234.57h2.53v1.43h-2.53zM408.21 234.02h1.43v2.53h-1.43zM424.77 234.57h2.53v1.43h-2.53zM425.32 234.02h1.43v2.53h-1.43zM406.24 233.14h2.53v1.43h-2.53zM406.79 232.59h1.43v2.53h-1.43zM426.20 233.14h2.53v1.43h-2.53zM426.75 232.59h1.43v2.53h-1.43zM404.81 231.72h2.53v1.43h-2.53zM405.36 231.17h1.43v2.53h-1.43zM427.62 231.72h2.53v1.43h-2.53zM428.17 231.17h1.43v2.53h-1.43zM404.81 230.29h2.53v1.43h-2.53zM405.36 229.74h1.43v2.53h-1.43zM427.62 230.29h2.53v1.43h-2.53zM428.17 229.74h1.43v2.53h-1.43zM403.38 228.87h2.53v1.43h-2.53zM403.93 228.32h1.43v2.53h-1.43zM429.05 228.87h2.53v1.43h-2.53zM429.60 228.32h1.43v2.53h-1.43zM403.38 227.44h2.53v1.43h-2.53zM403.93 226.89h1.43v2.53h-1.43zM429.05 227.44h2.53v1.43h-2.53zM429.60 226.89h1.43v2.53h-1.43zM401.96 226.02h2.53v1.43h-2.53zM402.51 225.47h1.43v2.53h-1.43zM430.47 226.02h2.53v1.43h-2.53zM431.02 225.47h1.43v2.53h-1.43zM401.96 224.59h2.53v1.43h-2.53zM402.51 224.04h1.43v2.53h-1.43zM430.47 224.59h2.53v1.43h-2.53zM431.02 224.04h1.43v2.53h-1.43zM401.96 223.16h2.53v1.43h-2.53zM402.51 222.61h1.43v2.53h-1.43zM430.47 223.16h2.53v1.43h-2.53zM431.02 222.61h1.43v2.53h-1.43zM401.96 216.04h2.53v1.43h-2.53zM402.51 215.49h1.43v2.53h-1.43zM430.47 216.04h2.53v1.43h-2.53zM431.02 215.49h1.43v2.53h-1.43zM401.96 214.61h2.53v1.43h-2.53zM402.51 214.06h1.43v2.53h-1.43zM430.47 214.61h2.53v1.43h-2.53zM431.02 214.06h1.43v2.53h-1.43zM403.38 211.76h2.53v1.43h-2.53zM403.93 211.21h1.43v2.53h-1.43zM429.05 211.76h2.53v1.43h-2.53zM429.60 211.21h1.43v2.53h-1.43zM404.81 210.33h2.53v1.43h-2.53zM405.36 209.78h1.43v2.53h-1.43zM427.62 210.33h2.53v1.43h-2.53zM428.17 209.78h1.43v2.53h-1.43zM406.24 208.91h2.53v1.43h-2.53zM406.79 208.36h1.43v2.53h-1.43zM426.20 208.91h2.53v1.43h-2.53zM426.75 208.36h1.43v2.53h-1.43zM407.66 207.48h2.53v1.43h-2.53zM408.21 206.93h1.43v2.53h-1.43zM424.77 207.48h2.53v1.43h-2.53zM425.32 206.93h1.43v2.53h-1.43zM409.09 206.05h3.95v1.43h-3.95zM409.64 205.50h2.85v2.53h-2.85zM421.92 206.05h3.95v1.43h-3.95zM422.47 205.50h2.85v2.53h-2.85zM413.36 204.63h8.23v1.43h-8.23zM413.91 204.08h7.13v2.53h-7.13z"/>
<path fill="#0088ff" d="M416.22 238.85h2.53v1.43h-2.53zM416.77 238.30h1.43v2.53h-1.43zM411.94 237.42h11.08v1.43h-11.08zM412.49 236.87h9.98v2.53h-9.98zM410.51 236.00h2.53v1.43h-2.53zM411.06 235.45h1.43v2.53h-1.43zM421.92 236.00h2.53v1.43h-2.53zM422.47 235.45h1.43v2.53h-1.43zM409.09 234.57h2.53v1.43h-2.53zM409.64 234.02h1.43v2.53h-1.43zM423.34 234.57h2.53v1.43h-2.53zM423.89 234.02h1.43v2.53h-1.43zM407.66 233.14h2.53v1.43h-2.53zM408.21 232.59h1.43v2.53h-1.43zM424.77 233.14h2.53v1.43h-2.53zM425.32 232.59h1.43v2.53h-1.43zM406.24 231.72h2.53v1.43h-2.53zM406.79 231.17h1.43v2.53h-1.43zM426.20 231.72h2.53v1.43h-2.53zM426.75 231.17h1.43v2.53h-1.43zM404.81 228.87h2.53v1.43h-2.53zM405.36 228.32h1.43v2.53h-1.43zM427.62 228.87h2.53v1.43h-2.53zM428.17 228.32h1.43v2.53h-1.43zM403.38 226.02h2.53v1.43h-2.53zM403.93 225.47h1.43v2.53h-1.43zM429.05 226.02h2.53v1.43h-2.53zM429.60 225.47h1.43v2.53h-1.43zM403.38 224.59h2.53v1.43h-2.53zM403.93 224.04h1.43v2.53h-1.43zM429.05 224.59h2.53v1.43h-2.53zM429.60 224.04h1.43v2.53h-1.43zM401.96 221.74h2.53v1.43h-2.53zM402.51 221.19h1.43v2.53h-1.43zM430.47 221.74h2.53v1.43h-2.53zM431.02 221.19h1.43v2.53h-1.43zM401.96 220.31h2.53v1.43h-2.53zM402.51 219.76h1.43v2.53h-1.43zM430.47 220.31h2.53v1.43h-2.53zM431.02 219.76h1.43v2.53h-1.43zM401.96 218.89h2.53v1.43h-2.53zM402.51 218.34h1.43v2.53h-1.43zM430.47 218.89h2.53v1.43h-2.53zM431.02 218.34h1.43v2.53h-1.43zM401.96 217.46h2.53v1.43h-2.53zM402.51 216.91h1.43v2.53h-1.43zM430.47 217.46h2.53v1.43h-2.53zM431.02 216.91h1.43v2.53h-1.43zM403.38 214.61h2.53v1.43h-2.53zM403.93 214.06h1.43v2.53h-1.43zM429.05 214.61h2.53v1.43h-2.53zM429.60 214.06h1.43v2.53h-1.43zM403.38 213.18h2.53v1.43h-2.53zM403.93 212.63h1.43v2.53h-1.43zM429.05 213.18h2.53v1.43h-2.53zM429.60 212.63h1.43v2.53h-1.43zM404.81 211.76h2.53v1.43h-2.53zM405.36 211.21h1.43v2.53h-1.43zM427.62 211.76h2.53v1.43h-2.53zM428.17 211.21h1.43v2.53h-1.43zM406.24 210.33h2.53v1.43h-2.53zM406.79 209.78h1.43v2.53h-1.43zM426.20 210.33h2.53v1.43h-2.53zM426.75 209.78h1.43v2.53h-1.43zM407.66 208.91h2.53v1.43h-2.53zM408.21 208.36h1.43v2.53h-1.43zM424.77 208.91h2.53v1.43h-2.53zM425.32 208.36h1.43v2.53h-1.43zM409.09 207.48h2.53v1.43h-2.53zM409.64 206.93h1.43v2.53h-1.43zM423.34 207.48h2.53v1.43h-2.53zM423.89 206.93h1.43v2.53h-1.43zM411.94 206.05h11.08v1.43h-11.08zM412.49 205.50h9.98v2.53h-9.98z"/>
<path fill="#00a2ff" d="M411.94 236.00h3.95v1.43h-3.95zM412.49 235.45h2.85v2.53h-2.85zM419.07 236.00h3.95v1.43h-3.95zM419.62 235.45h2.85v2.53h-2.85zM410.51 234.57h2.53v1.43h-2.53zM411.06 234.02h1.43v2.53h-1.43zM421.92 234.57h2.53v1.43h-2.53zM422.47 234.02h1.43v2.53h-1.43zM409.09 233.14h2.53v1.43h-2.53zM409.64 232.59h1.43v2.53h-1.43zM423.34 233.14h2.53v1.43h-2.53zM423.89 232.59h1.43v2.53h-1.43zM407.66 231.72h2.53v1.43h-2.53zM408.21 231.17h1.43v2.53h-1.43zM424.77 231.72h2.53v1.43h-2.53zM425.32 231.17h1.43v2.53h-1.43zM406.24 230.29h2.53v1.43h-2.53zM406.79 229.74h1.43v2.53h-1.43zM426.20 230.29h2.53v1.43h-2.53zM426.75 229.74h1.43v2.53h-1.43zM404.81 227.44h2.53v1.43h-2.53zM405.36 226.89h1.43v2.53h-1.43zM427.62 227.44h2.53v1.43h-2.53zM428.17 226.89h1.43v2.53h-1.43zM403.38 223.16h2.53v1.43h-2.53zM403.93 222.61h1.43v2.53h-1.43zM429.05 223.16h2.53v1.43h-2.53zM429.60 222.61h1.43v2.53h-1.43zM403.38 221.74h2.53v1.43h-2.53zM403.93 221.19h1.43v2.53h-1.43zM403.38 217.46h2.53v1.43h-2.53zM403.93 216.91h1.43v2.53h-1.43zM429.05 217.46h2.53v1.43h-2.53zM429.60 216.91h1.43v2.53h-1.43zM403.38 216.04h2.53v1.43h-2.53zM403.93 215.49h1.43v2.53h-1.43zM429.05 216.04h2.53v1.43h-2.53zM429.60 215.49h1.43v2.53h-1.43zM404.81 213.18h2.53v1.43h-2.53zM405.36 212.63h1.43v2.53h-1.43zM427.62 213.18h2.53v1.43h-2.53zM428.17 212.63h1.43v2.53h-1.43zM410.51 207.48h2.53v1.43h-2.53zM411.06 206.93h1.43v2.53h-1.43zM421.92 207.48h2.53v1.43h-2.53zM422.47 206.93h1.43v2.53h-1.43z"/>
<path fill="#00a7ff" d="M414.79 236.00h5.38v1.43h-5.38zM415.34 235.45h4.28v2.53h-4.28zM411.94 234.57h2.53v1.43h-2.53zM412.49 234.02h1.43v2.53h-1.43zM420.49 234.57h2.53v1.43h-2.53zM421.04 234.02h1.43v2.53h-1.43zM406.24 228.87h2.53v1.43h-2.53zM406.79 228.32h1.43v2.53h-1.43zM426.20 228.87h2.53v1.43h-2.53zM426.75 228.32h1.43v2.53h-1.43zM404.81 226.02h2.53v1.43h-2.53zM405.36 225.47h1.43v2.53h-1.43zM427.62 226.02h2.53v1.43h-2.53zM428.17 225.47h1.43v2.53h-1.43zM429.05 221.74h2.53v1.43h-2.53zM429.60 221.19h1.43v2.53h-1.43zM403.38 220.31h2.53v1.43h-2.53zM403.93 219.76h1.43v2.53h-1.43zM429.05 220.31h2.53v1.43h-2.53zM429.60 219.76h1.43v2.53h-1.43zM403.38 218.89h2.53v1.43h-2.53zM403.93 218.34h1.43v2.53h-1.43zM429.05 218.89h2.53v1.43h-2.53zM429.60 218.34h1.43v2.53h-1.43zM406.24 211.76h2.53v1.43h-2.53zM406.79 211.21h1.43v2.53h-1.43zM426.20 211.76h2.53v1.43h-2.53zM426.75 211.21h1.43v2.53h-1.43zM407.66 210.33h2.53v1.43h-2.53zM408.21 209.78h1.43v2.53h-1.43zM424.77 210.33h2.53v1.43h-2.53zM425.32 209.78h1.43v2.53h-1.43zM409.09 208.91h2.53v1.43h-2.53zM409.64 208.36h1.43v2.53h-1.43zM423.34 208.91h2.53v1.43h-2.53zM423.89 208.36h1.43v2.53h-1.43zM411.94 207.48h2.53v1.43h-2.53zM412.49 206.93h1.43v2.53h-1.43zM420.49 207.48h2.53v1.43h-2.53zM421.04 206.93h1.43v2.53h-1.43z"/>
<path fill="#00b4ff" d="M413.36 234.57h2.53v1.43h-2.53zM413.91 234.02h1.43v2.53h-1.43zM419.07 234.57h2.53v1.43h-2.53zM419.62 234.02h1.43v2.53h-1.43zM410.51 233.14h2.53v1.43h-2.53zM411.06 232.59h1.43v2.53h-1.43zM421.92 233.14h2.53v1.43h-2.53zM422.47 232.59h1.43v2.53h-1.43zM409.09 231.72h2.53v1.43h-2.53zM409.64 231.17h1.43v2.53h-1.43zM423.34 231.72h2.53v1.43h-2.53zM423.89 231.17h1.43v2.53h-1.43zM407.66 230.29h2.53v1.43h-2.53zM408.21 229.74h1.43v2.53h-1.43zM424.77 230.29h2.53v1.43h-2.53zM425.32 229.74h1.43v2.53h-1.43zM404.81 224.59h2.53v1.43h-2.53zM405.36 224.04h1.43v2.53h-1.43zM427.62 224.59h2.53v1.43h-2.53zM428.17 224.04h1.43v2.53h-1.43zM404.81 214.61h2.53v1.43h-2.53zM405.36 214.06h1.43v2.53h-1.43zM427.62 214.61h2.53v1.43h-2.53zM428.17 214.06h1.43v2.53h-1.43zM410.51 208.91h2.53v1.43h-2.53zM411.06 208.36h1.43v2.53h-1.43zM413.36 207.48h8.23v1.43h-8.23zM413.91 206.93h7.13v2.53h-7.13z"/>
<path fill="#00c9ff" d="M414.79 234.57h5.38v1.43h-5.38zM415.34 234.02h4.28v2.53h-4.28zM406.24 227.44h2.53v1.43h-2.53zM406.79 226.89h1.43v2.53h-1.43zM426.20 227.44h2.53v1.43h-2.53zM426.75 226.89h1.43v2.53h-1.43zM404.81 223.16h2.53v1.43h-2.53zM405.36 222.61h1.43v2.53h-1.43zM427.62 223.16h2.53v1.43h-2.53zM428.17 222.61h1.43v2.53h-1.43zM404.81 216.04h2.53v1.43h-2.53zM405.36 215.49h1.43v2.53h-1.43zM427.62 216.04h2.53v1.43h-2.53zM428.17 215.49h1.43v2.53h-1.43zM406.24 213.18h2.53v1.43h-2.53zM406.79 212.63h1.43v2.53h-1.43zM426.20 213.18h2.53v1.43h-2.53zM426.75 212.63h1.43v2.53h-1.43zM421.92 208.91h2.53v1.43h-2.53zM422.47 208.36h1.43v2.53h-1.43z"/>
<path fill="#00dfff" d="M411.94 233.14h2.53v1.43h-2.53zM412.49 232.59h1.43v2.53h-1.43zM420.49 233.14h2.53v1.43h-2.53zM421.04 232.59h1.43v2.53h-1.43zM410.51 231.72h2.53v1.43h-2.53zM411.06 231.17h1.43v2.53h-1.43zM421.92 231.72h2.53v1.43h-2.53zM422.47 231.17h1.43v2.53h-1.43zM409.09 230.29h2.53v1.43h-2.53zM409.64 229.74h1.43v2.53h-1.43zM423.34 230.29h2.53v1.43h-2.53zM423.89 229.74h1.43v2.53h-1.43zM407.66 228.87h2.53v1.43h-2.53zM408.21 228.32h1.43v2.53h-1.43zM424.77 228.87h2.53v1.43h-2.53zM425.32 228.32h1.43v2.53h-1.43zM406.24 226.02h2.53v1.43h-2.53zM406.79 225.47h1.43v2.53h-1.43zM426.20 226.02h2.53v1.43h-2.53zM426.75 225.47h1.43v2.53h-1.43zM404.81 221.74h2.53v1.43h-2.53zM405.36 221.19h1.43v2.53h-1.43zM427.62 221.74h2.53v1.43h-2.53zM428.17 221.19h1.43v2.53h-1.43zM404.81 220.31h2.53v1.43h-2.53zM405.36 219.76h1.43v2.53h-1.43zM427.62 220.31h2.53v1.43h-2.53zM428.17 219.76h1.43v2.53h-1.43zM404.81 218.89h2.53v1.43h-2.53zM405.36 218.34h1.43v2.53h-1.43zM427.62 218.89h2.53v1.43h-2.53zM428.17 218.34h1.43v2.53h-1.43zM404.81 217.46h2.53v1.43h-2.53zM405.36 216.91h1.43v2.53h-1.43zM427.62 217.46h2.53v1.43h-2.53zM428.17 216.91h1.43v2.53h-1.43zM407.66 211.76h2.53v1.43h-2.53zM408.21 211.21h1.43v2.53h-1.43zM424.77 211.76h2.53v1.43h-2.53zM425.32 211.21h1.43v2.53h-1.43zM409.09 210.33h2.53v1.43h-2.53zM409.64 209.78h1.43v2.53h-1.43zM423.34 210.33h2.53v1.43h-2.53zM423.89 209.78h1.43v2.53h-1.43zM411.94 208.91h2.53v1.43h-2.53zM412.49 208.36h1.43v2.53h-1.43zM420.49 208.91h2.53v1.43h-2.53zM421.04 208.36h1.43v2.53h-1.43z"/>
<path fill="#00f4ff" d="M413.36 233.14h3.95v1.43h-3.95zM413.91 232.59h2.85v2.53h-2.85zM417.64 233.14h3.95v1.43h-3.95zM418.19 232.59h2.85v2.53h-2.85zM406.24 214.61h2.53v1.43h-2.53zM406.79 214.06h1.43v2.53h-1.43zM426.20 214.61h2.53v1.43h-2.53zM426.75 214.06h1.43v2.53h-1.43zM413.36 208.91h2.53v1.43h-2.53zM413.91 208.36h1.43v2.53h-1.43zM419.07 208.91h2.53v1.43h-2.53zM419.62 208.36h1.43v2.53h-1.43z"/>
<path fill="#00ffea" d="M416.22 233.14h2.53v1.43h-2.53zM416.77 232.59h1.43v2.53h-1.43zM411.94 231.72h2.53v1.43h-2.53zM412.49 231.17h1.43v2.53h-1.43zM420.49 231.72h2.53v1.43h-2.53zM421.04 231.17h1.43v2.53h-1.43zM410.51 230.29h2.53v1.43h-2.53zM411.06 229.74h1.43v2.53h-1.43zM421.92 230.29h2.53v1.43h-2.53zM422.47 229.74h1.43v2.53h-1.43zM409.09 228.87h2.53v1.43h-2.53zM409.64 228.32h1.43v2.53h-1.43zM423.34 228.87h2.53v1.43h-2.53zM423.89 228.32h1.43v2.53h-1.43zM407.66 227.44h2.53v1.43h-2.53zM408.21 226.89h1.43v2.53h-1.43zM424.77 227.44h2.53v1.43h-2.53zM425.32 226.89h1.43v2.53h-1.43zM406.24 224.59h2.53v1.43h-2.53zM406.79 224.04h1.43v2.53h-1.43zM426.20 224.59h2.53v1.43h-2.53zM426.75 224.04h1.43v2.53h-1.43zM406.24 216.04h2.53v1.43h-2.53zM406.79 215.49h1.43v2.53h-1.43zM426.20 216.04h2.53v1.43h-2.53zM426.75 215.49h1.43v2.53h-1.43zM407.66 213.18h2.53v1.43h-2.53zM408.21 212.63h1.43v2.53h-1.43zM424.77 213.18h2.53v1.43h-2.53zM425.32 212.63h1.43v2.53h-1.43zM409.09 211.76h2.53v1.43h-2.53zM409.64 211.21h1.43v2.53h-1.43zM423.34 211.76h2.53v1.43h-2.53zM423.89 211.21h1.43v2.53h-1.43zM410.51 210.33h2.53v1.43h-2.53zM411.06 209.78h1.43v2.53h-1.43zM421.92 210.33h2.53v1.43h-2.53zM422.47 209.78h1.43v2.53h-1.43zM414.79 208.91h5.38v1.43h-5.38zM415.34 208.36h4.28v2.53h-4.28z"/>
<path fill="#00ffbf" d="M413.36 231.72h2.53v1.43h-2.53zM413.91 231.17h1.43v2.53h-1.43zM419.07 231.72h2.53v1.43h-2.53zM419.62 231.17h1.43v2.53h-1.43zM407.66 226.02h2.53v1.43h-2.53zM408.21 225.47h1.43v2.53h-1.43zM424.77 226.02h2.53v1.43h-2.53zM425.32 225.47h1.43v2.53h-1.43zM406.24 223.16h2.53v1.43h-2.53zM406.79 222.61h1.43v2.53h-1.43zM426.20 223.16h2.53v1.43h-2.53zM426.75 222.61h1.43v2.53h-1.43zM406.24 217.46h2.53v1.43h-2.53zM406.79 216.91h1.43v2.53h-1.43zM426.20 217.46h2.53v1.43h-2.53zM426.75 216.91h1.43v2.53h-1.43zM411.94 210.33h2.53v1.43h-2.53zM412.49 209.78h1.43v2.53h-1.43zM420.49 210.33h2.53v1.43h-2.53zM421.04 209.78h1.43v2.53h-1.43z"/>
<path fill="#00ff95" d="M414.79 231.72h5.38v1.43h-5.38zM415.34 231.17h4.28v2.53h-4.28zM411.94 230.29h2.53v1.43h-2.53zM412.49 229.74h1.43v2.53h-1.43zM420.49 230.29h2.53v1.43h-2.53zM421.04 229.74h1.43v2.53h-1.43zM409.09 227.44h2.53v1.43h-2.53zM409.64 226.89h1.43v2.53h-1.43zM423.34 227.44h2.53v1.43h-2.53zM423.89 226.89h1.43v2.53h-1.43zM406.24 221.74h2.53v1.43h-2.53zM406.79 221.19h1.43v2.53h-1.43zM426.20 221.74h2.53v1.43h-2.53zM426.75 221.19h1.43v2.53h-1.43zM406.24 220.31h2.53v1.43h-2.53zM406.79 219.76h1.43v2.53h-1.43zM426.20 220.31h2.53v1.43h-2.53zM426.75 219.76h1.43v2.53h-1.43zM406.24 218.89h2.53v1.43h-2.53zM406.79 218.34h1.43v2.53h-1.43zM426.20 218.89h2.53v1.43h-2.53zM426.75 218.34h1.43v2.53h-1.43zM407.66 214.61h2.53v1.43h-2.53zM408.21 214.06h1.43v2.53h-1.43zM424.77 214.61h2.53v1.43h-2.53zM425.32 214.06h1.43v2.53h-1.43z"/>
<path fill="#00ff6e" d="M413.36 230.29h2.53v1.43h-2.53zM413.91 229.74h1.43v2.53h-1.43zM419.07 230.29h2.53v1.43h-2.53zM419.62 229.74h1.43v2.53h-1.43zM410.51 228.87h2.53v1.43h-2.53zM411.06 228.32h1.43v2.53h-1.43zM421.92 228.87h2.53v1.43h-2.53zM422.47 228.32h1.43v2.53h-1.43zM407.66 224.59h2.53v1.43h-2.53zM408.21 224.04h1.43v2.53h-1.43zM424.77 224.59h2.53v1.43h-2.53zM425.32 224.04h1.43v2.53h-1.43zM409.09 213.18h2.53v1.43h-2.53zM409.64 212.63h1.43v2.53h-1.43zM423.34 213.18h2.53v1.43h-2.53zM423.89 212.63h1.43v2.53h-1.43zM410.51 211.76h2.53v1.43h-2.53zM411.06 211.21h1.43v2.53h-1.43zM421.92 211.76h2.53v1.43h-2.53zM422.47 211.21h1.43v2.53h-1.43zM413.36 210.33h3.95v1.43h-3.95zM413.91 209.78h2.85v2.53h-2.85zM417.64 210.33h3.95v1.43h-3.95zM418.19 209.78h2.85v2.53h-2.85z"/>
<path fill="#00ff4c" d="M414.79 230.29h2.53v1.43h-2.53zM415.34 229.74h1.43v2.53h-1.43zM417.64 230.29h2.53v1.43h-2.53zM418.19 229.74h1.43v2.53h-1.43zM411.94 228.87h2.53v1.43h-2.53zM412.49 228.32h1.43v2.53h-1.43zM420.49 228.87h2.53v1.43h-2.53zM421.04 228.32h1.43v2.53h-1.43zM409.09 226.02h2.53v1.43h-2.53zM409.64 225.47h1.43v2.53h-1.43zM423.34 226.02h2.53v1.43h-2.53zM423.89 225.47h1.43v2.53h-1.43zM407.66 223.16h2.53v1.43h-2.53zM408.21 222.61h1.43v2.53h-1.43zM424.77 223.16h2.53v1.43h-2.53zM425.32 222.61h1.43v2.53h-1.43zM407.66 216.04h2.53v1.43h-2.53zM408.21 215.49h1.43v2.53h-1.43zM424.77 216.04h2.53v1.43h-2.53zM425.32 215.49h1.43v2.53h-1.43zM411.94 211.76h2.53v1.43h-2.53zM412.49 211.21h1.43v2.53h-1.43zM416.22 210.33h2.53v1.43h-2.53zM416.77 209.78h1.43v2.53h-1.43z"/>
<path fill="#00ff2a" d="M416.22 230.29h2.53v1.43h-2.53zM416.77 229.74h1.43v2.53h-1.43zM410.51 227.44h2.53v1.43h-2.53zM411.06 226.89h1.43v2.53h-1.43zM421.92 227.44h2.53v1.43h-2.53zM422.47 226.89h1.43v2.53h-1.43zM407.66 221.74h2.53v1.43h-2.53zM408.21 221.19h1.43v2.53h-1.43zM424.77 221.74h2.53v1.43h-2.53zM425.32 221.19h1.43v2.53h-1.43zM407.66 218.89h2.53v1.43h-2.53zM408.21 218.34h1.43v2.53h-1.43zM407.66 217.46h2.53v1.43h-2.53zM408.21 216.91h1.43v2.53h-1.43zM424.77 217.46h2.53v1.43h-2.53zM425.32 216.91h1.43v2.53h-1.43zM409.09 214.61h2.53v1.43h-2.53zM409.64 214.06h1.43v2.53h-1.43zM423.34 214.61h2.53v1.43h-2.53zM423.89 214.06h1.43v2.53h-1.43zM410.51 213.18h2.53v1.43h-2.53zM411.06 212.63h1.43v2.53h-1.43zM421.92 213.18h2.53v1.43h-2.53zM422.47 212.63h1.43v2.53h-1.43zM420.49 211.76h2.53v1.43h-2.53zM421.04 211.21h1.43v2.53h-1.43z"/>
<path fill="#00ff08" d="M413.36 228.87h2.53v1.43h-2.53zM413.91 228.32h1.43v2.53h-1.43zM419.07 228.87h2.53v1.43h-2.53zM419.62 228.32h1.43v2.53h-1.43zM409.09 224.59h2.53v1.43h-2.53zM409.64 224.04h1.43v2.53h-1.43zM423.34 224.59h2.53v1.43h-2.53zM423.89 224.04h1.43v2.53h-1.43zM407.66 220.31h2.53v1.43h-2.53zM408.21 219.76h1.43v2.53h-1.43zM424.77 220.31h2.53v1.43h-2.53zM425.32 219.76h1.43v2.53h-1.43zM424.77 218.89h2.53v1.43h-2.53zM425.32 218.34h1.43v2.53h-1.43zM413.36 211.76h2.53v1.43h-2.53zM413.91 211.21h1.43v2.53h-1.43zM419.07 211.76h2.53v1.43h-2.53zM419.62 211.21h1.43v2.53h-1.43z"/>
<path fill="#1dff00" d="M414.79 228.87h5.38v1.43h-5.38zM415.34 228.32h4.28v2.53h-4.28zM411.94 227.44h2.53v1.43h-2.53zM412.49 226.89h1.43v2.53h-1.43zM420.49 227.44h2.53v1.43h-2.53zM421.04 226.89h1.43v2.53h-1.43zM410.51 226.02h2.53v1.43h-2.53zM411.06 225.47h1.43v2.53h-1.43zM421.92 226.02h2.53v1.43h-2.53zM422.47 225.47h1.43v2.53h-1.43zM409.09 223.16h2.53v1.43h-2.53zM409.64 222.61h1.43v2.53h-1.43zM423.34 223.16h2.53v1.43h-2.53zM423.89 222.61h1.43v2.53h-1.43zM409.09 216.04h2.53v1.43h-2.53zM409.64 215.49h1.43v2.53h-1.43zM423.34 216.04h2.53v1.43h-2.53zM423.89 215.49h1.43v2.53h-1.43zM414.79 211.76h5.38v1.43h-5.38zM415.34 211.21h4.28v2.53h-4.28z"/>
<path fill="#45ff00" d="M413.36 227.44h2.53v1.43h-2.53zM413.91 226.89h1.43v2.53h-1.43zM419.07 227.44h2.53v1.43h-2.53zM419.62 226.89h1.43v2.53h-1.43zM409.09 221.74h2.53v1.43h-2.53zM409.64 221.19h1.43v2.53h-1.43zM409.09 217.46h2.53v1.43h-2.53zM409.64 216.91h1.43v2.53h-1.43zM423.34 217.46h2.53v1.43h-2.53zM423.89 216.91h1.43v2.53h-1.43zM410.51 214.61h2.53v1.43h-2.53zM411.06 214.06h1.43v2.53h-1.43zM421.92 214.61h2.53v1.43h-2.53zM422.47 214.06h1.43v2.53h-1.43zM411.94 213.18h2.53v1.43h-2.53zM412.49 212.63h1.43v2.53h-1.43zM420.49 213.18h2.53v1.43h-2.53zM421.04 212.63h1.43v2.53h-1.43z"/>
<path fill="#6cff00" d="M414.79 227.44h2.53v1.43h-2.53zM415.34 226.89h1.43v2.53h-1.43zM411.94 226.02h2.53v1.43h-2.53zM412.49 225.47h1.43v2.53h-1.43zM420.49 226.02h2.53v1.43h-2.53zM421.04 225.47h1.43v2.53h-1.43zM410.51 224.59h2.53v1.43h-2.53zM411.06 224.04h1.43v2.53h-1.43zM421.92 224.59h2.53v1.43h-2.53zM422.47 224.04h1.43v2.53h-1.43zM423.34 221.74h2.53v1.43h-2.53zM423.89 221.19h1.43v2.53h-1.43zM409.09 220.31h2.53v1.43h-2.53zM409.64 219.76h1.43v2.53h-1.43zM423.34 220.31h2.53v1.43h-2.53zM423.89 219.76h1.43v2.53h-1.43zM409.09 218.89h2.53v1.43h-2.53zM409.64 218.34h1.43v2.53h-1.43zM423.34 218.89h2.53v1.43h-2.53zM423.89 218.34h1.43v2.53h-1.43zM413.36 213.18h2.53v1.43h-2.53zM413.91 212.63h1.43v2.53h-1.43zM419.07 213.18h2.53v1.43h-2.53zM419.62 212.63h1.43v2.53h-1.43z"/>
<path fill="#90ff00" d="M416.22 227.44h3.95v1.43h-3.95zM416.77 226.89h2.85v2.53h-2.85zM410.51 216.04h2.53v1.43h-2.53zM411.06 215.49h1.43v2.53h-1.43zM421.92 216.04h2.53v1.43h-2.53zM422.47 215.49h1.43v2.53h-1.43zM411.94 214.61h2.53v1.43h-2.53zM412.49 214.06h1.43v2.53h-1.43zM420.49 214.61h2.53v1.43h-2.53zM421.04 214.06h1.43v2.53h-1.43zM414.79 213.18h2.53v1.43h-2.53zM415.34 212.63h1.43v2.53h-1.43zM417.64 213.18h2.53v1.43h-2.53zM418.19 212.63h1.43v2.53h-1.43z"/>
<path fill="#b2ff00" d="M413.36 226.02h2.53v1.43h-2.53zM413.91 225.47h1.43v2.53h-1.43zM419.07 226.02h2.53v1.43h-2.53zM419.62 225.47h1.43v2.53h-1.43zM411.94 224.59h2.53v1.43h-2.53zM412.49 224.04h1.43v2.53h-1.43zM420.49 224.59h2.53v1.43h-2.53zM421.04 224.04h1.43v2.53h-1.43zM410.51 223.16h2.53v1.43h-2.53zM411.06 222.61h1.43v2.53h-1.43zM421.92 223.16h2.53v1.43h-2.53zM422.47 222.61h1.43v2.53h-1.43zM416.22 213.18h2.53v1.43h-2.53zM416.77 212.63h1.43v2.53h-1.43z"/>
<path fill="#d4ff00" d="M414.79 226.02h2.53v1.43h-2.53zM415.34 225.47h1.43v2.53h-1.43zM417.64 226.02h2.53v1.43h-2.53zM418.19 225.47h1.43v2.53h-1.43zM410.51 221.74h2.53v1.43h-2.53zM411.06 221.19h1.43v2.53h-1.43zM421.92 221.74h2.53v1.43h-2.53zM422.47 221.19h1.43v2.53h-1.43zM410.51 217.46h2.53v1.43h-2.53zM411.06 216.91h1.43v2.53h-1.43zM421.92 217.46h2.53v1.43h-2.53zM422.47 216.91h1.43v2.53h-1.43zM413.36 214.61h2.53v1.43h-2.53zM413.91 214.06h1.43v2.53h-1.43zM419.07 214.61h2.53v1.43h-2.53zM419.62 214.06h1.43v2.53h-1.43z"/>
<path fill="#f7ff00" d="M416.22 226.02h2.53v1.43h-2.53zM416.77 225.47h1.43v2.53h-1.43zM411.94 223.16h2.53v1.43h-2.53zM412.49 222.61h1.43v2.53h-1.43zM410.51 220.31h2.53v1.43h-2.53zM411.06 219.76h1.43v2.53h-1.43zM421.92 220.31h2.53v1.43h-2.53zM422.47 219.76h1.43v2.53h-1.43zM410.51 218.89h2.53v1.43h-2.53zM411.06 218.34h1.43v2.53h-1.43zM421.92 218.89h2.53v1.43h-2.53zM422.47 218.34h1.43v2.53h-1.43zM411.94 216.04h2.53v1.43h-2.53zM412.49 215.49h1.43v2.53h-1.43zM420.49 216.04h2.53v1.43h-2.53zM421.04 215.49h1.43v2.53h-1.43z"/>
<path fill="#fff300" d="M413.36 224.59h2.53v1.43h-2.53zM413.91 224.04h1.43v2.53h-1.43zM419.07 224.59h2.53v1.43h-2.53zM419.62 224.04h1.43v2.53h-1.43zM420.49 223.16h2.53v1.43h-2.53zM421.04 222.61h1.43v2.53h-1.43zM414.79 214.61h5.38v1.43h-5.38zM415.34 214.06h4.28v2.53h-4.28z"/>
<path fill="#ffdf00" d="M414.79 224.59h2.53v1.43h-2.53zM415.34 224.04h1.43v2.53h-1.43zM417.64 224.59h2.53v1.43h-2.53zM418.19 224.04h1.43v2.53h-1.43zM411.94 221.74h2.53v1.43h-2.53zM412.49 221.19h1.43v2.53h-1.43zM420.49 221.74h2.53v1.43h-2.53zM421.04 221.19h1.43v2.53h-1.43zM411.94 217.46h2.53v1.43h-2.53zM412.49 216.91h1.43v2.53h-1.43zM420.49 217.46h2.53v1.43h-2.53zM421.04 216.91h1.43v2.53h-1.43zM413.36 216.04h2.53v1.43h-2.53zM413.91 215.49h1.43v2.53h-1.43zM419.07 216.04h2.53v1.43h-2.53zM419.62 215.49h1.43v2.53h-1.43z"/>
<path fill="#ffc100" d="M416.22 224.59h2.53v1.43h-2.53zM416.77 224.04h1.43v2.53h-1.43zM413.36 223.16h2.53v1.43h-2.53zM413.91 222.61h1.43v2.53h-1.43zM419.07 223.16h2.53v1.43h-2.53zM419.62 222.61h1.43v2.53h-1.43zM411.94 220.31h2.53v1.43h-2.53zM412.49 219.76h1.43v2.53h-1.43zM420.49 220.31h2.53v1.43h-2.53zM421.04 219.76h1.43v2.53h-1.43zM411.94 218.89h2.53v1.43h-2.53zM412.49 218.34h1.43v2.53h-1.43zM420.49 218.89h2.53v1.43h-2.53zM421.04 218.34h1.43v2.53h-1.43z"/>
<path fill="#ff9b00" d="M414.79 216.04h2.53v1.43h-2.53zM415.34 215.49h1.43v2.53h-1.43zM417.64 216.04h2.53v1.43h-2.53zM418.19 215.49h1.43v2.53h-1.43z"/>
<path fill="#ff7400" d="M414.79 223.16h2.53v1.43h-2.53zM415.34 222.61h1.43v2.53h-1.43zM417.64 223.16h2.53v1.43h-2.53zM418.19 222.61h1.43v2.53h-1.43zM413.36 221.74h2.53v1.43h-2.53zM413.91 221.19h1.43v2.53h-1.43zM419.07 221.74h2.53v1.43h-2.53zM419.62 221.19h1.43v2.53h-1.43zM413.36 217.46h2.53v1.43h-2.53zM413.91 216.91h1.43v2.53h-1.43zM419.07 217.46h2.53v1.43h-2.53zM419.62 216.91h1.43v2.53h-1.43zM416.22 216.04h2.53v1.43h-2.53zM416.77 215.49h1.43v2.53h-1.43z"/>
<path fill="#ff5400" d="M416.22 223.16h2.53v1.43h-2.53zM416.77 222.61h1.43v2.53h-1.43z"/>
<path fill="#ff3600" d="M413.36 220.31h2.53v1.43h-2.53zM413.91 219.76h1.43v2.53h-1.43zM419.07 220.31h2.53v1.43h-2.53zM419.62 219.76h1.43v2.53h-1.43zM413.36 218.89h2.53v1.43h-2.53zM413.91 218.34h1.43v2.53h-1.43zM419.07 218.89h2.53v1.43h-2.53zM419.62 218.34h1.43v2.53h-1.43zM414.79 217.46h2.53v1.43h-2.53zM415.34 216.91h1.43v2.53h-1.43zM417.64 217.46h2.53v1.43h-2.53zM418.19 216.91h1.43v2.53h-1.43z"/>
<path fill="#ff1800" d="M414.79 221.74h2.53v1.43h-2.53zM415.34 221.19h1.43v2.53h-1.43zM417.64 221.74h2.53v1.43h-2.53zM418.19 221.19h1.43v2.53h-1.43zM416.22 217.46h2.53v1.43h-2.53zM416.77 216.91h1.43v2.53h-1.43z"/>
<path fill="#ff0f00" d="M416.22 221.74h2.53v1.43h-2.53zM416.77 221.19h1.43v2.53h-1.43z"/>
<path fill="#ff0c00" d="M414.79 220.31h2.53v1.43h-2.53zM415.34 219.76h1.43v2.53h-1.43zM417.64 220.31h2.53v1.43h-2.53zM418.19 219.76h1.43v2.53h-1.43zM414.79 218.89h2.53v1.43h-2.53zM415.34 218.34h1.43v2.53h-1.43zM417.64 218.89h2.53v1.43h-2.53zM418.19 218.34h1.43v2.53h-1.43z"/>
<path fill="#ff0600" d="M416.22 220.31h2.53v1.43h-2.53zM416.77 219.76h1.43v2.53h-1.43zM416.22 218.89h2.53v1.43h-2.53zM416.77 218.34h1.43v2.53h-1.43z"/>
<path fill="#0000ff" d="M420.84 289.98h1.83v1.83h-1.83zM403.73 288.55h1.83v1.83h-1.83zM415.14 288.55h1.83v1.83h-1.83zM408.01 287.12h1.83v1.83h-1.83zM406.59 284.27h1.83v1.83h-1.83zM415.14 284.27h1.83v1.83h-1.83zM392.33 282.85h1.83v1.83h-1.83zM402.31 282.85h1.83v1.83h-1.83zM413.71 282.85h1.83v1.83h-1.83zM408.01 281.42h1.83v1.83h-1.83zM410.86 281.42h1.83v1.83h-1.83zM417.99 281.42h1.83v1.83h-1.83zM409.44 280.00h1.83v1.83h-1.83zM417.99 280.00h1.83v1.83h-1.83zM423.69 280.00h1.83v1.83h-1.83zM398.03 278.57h1.83v1.83h-1.83zM400.88 278.57h1.83v1.83h-1.83zM417.99 278.57h1.83v1.83h-1.83zM422.27 278.57h1.83v1.83h-1.83zM410.86 277.14h1.83v1.83h-1.83zM413.71 277.14h1.83v1.83h-1.83zM420.84 277.14h1.83v1.83h-1.83zM426.55 277.14h1.83v1.83h-1.83zM410.86 275.72h1.83v1.83h-1.83zM413.71 275.72h1.83v1.83h-1.83zM429.40 275.72h1.83v1.83h-1.83zM402.31 274.29h1.83v1.83h-1.83zM413.71 274.29h1.83v1.83h-1.83zM422.27 274.29h1.83v1.83h-1.83zM403.73 272.87h1.83v1.83h-1.83zM409.44 272.87h3.25v1.83h-3.25zM415.14 272.87h1.83v1.83h-1.83zM420.84 272.87h1.83v1.83h-1.83zM429.40 272.87h1.83v1.83h-1.83zM408.01 271.44h3.25v1.83h-3.25zM412.29 271.44h4.68v1.83h-4.68zM427.97 271.44h1.83v1.83h-1.83zM390.90 270.01h1.83v1.83h-1.83zM410.86 270.01h3.25v1.83h-3.25zM420.84 270.01h3.25v1.83h-3.25zM403.73 268.59h1.83v1.83h-1.83zM406.59 268.59h1.83v1.83h-1.83zM412.29 268.59h1.83v1.83h-1.83zM415.14 268.59h1.83v1.83h-1.83zM417.99 268.59h3.25v1.83h-3.25zM422.27 268.59h3.25v1.83h-3.25zM400.88 267.16h1.83v1.83h-1.83zM406.59 267.16h3.25v1.83h-3.25zM410.86 267.16h1.83v1.83h-1.83zM423.69 267.16h1.83v1.83h-1.83zM429.40 267.16h1.83v1.83h-1.83zM402.31 265.74h3.25v1.83h-3.25zM412.29 265.74h1.83v1.83h-1.83zM415.14 265.74h4.68v1.83h-4.68zM422.27 265.74h1.83v1.83h-1.83zM427.97 265.74h1.83v1.83h-1.83zM430.82 265.74h1.83v1.83h-1.83zM405.16 264.31h1.83v1.83h-1.83zM409.44 264.31h3.25v1.83h-3.25zM413.71 264.31h1.83v1.83h-1.83zM422.27 264.31h1.83v1.83h-1.83zM426.55 264.31h1.83v1.83h-1.83zM405.16 262.89h3.25v1.83h-3.25zM422.27 262.89h1.83v1.83h-1.83zM426.55 262.89h1.83v1.83h-1.83zM429.40 262.89h1.83v1.83h-1.83zM436.53 262.89h1.83v1.83h-1.83zM406.59 261.46h3.25v1.83h-3.25zM398.03 260.03h1.83v1.83h-1.83zM400.88 260.03h3.25v1.83h-3.25zM405.16 260.03h3.25v1.83h-3.25zM429.40 260.03h1.83v1.83h-1.83zM432.25 260.03h1.83v1.83h-1.83zM399.46 258.61h4.68v1.83h-4.68zM406.59 258.61h1.83v1.83h-1.83zM426.55 258.61h3.25v1.83h-3.25zM398.03 257.18h3.25v1.83h-3.25zM405.16 257.18h1.83v1.83h-1.83zM429.40 257.18h1.83v1.83h-1.83zM402.31 255.76h3.25v1.83h-3.25zM430.82 255.76h1.83v1.83h-1.83zM439.38 255.76h1.83v1.83h-1.83zM399.46 254.33h1.83v1.83h-1.83zM402.31 254.33h1.83v1.83h-1.83zM433.68 254.33h1.83v1.83h-1.83zM436.53 254.33h1.83v1.83h-1.83zM396.60 252.91h1.83v1.83h-1.83zM400.88 252.91h1.83v1.83h-1.83zM430.82 252.91h1.83v1.83h-1.83zM433.68 252.91h1.83v1.83h-1.83zM436.53 252.91h1.83v1.83h-1.83zM398.03 251.48h1.83v1.83h-1.83zM400.88 251.48h1.83v1.83h-1.83zM435.10 251.48h3.25v1.83h-3.25zM399.46 250.05h3.25v1.83h-3.25zM399.46 248.63h1.83v1.83h-1.83zM435.10 248.63h1.83v1.83h-1.83zM393.75 247.20h1.83v1.83h-1.83zM436.53 247.20h1.83v1.83h-1.83zM396.60 245.78h3.25v1.83h-3.25zM439.38 245.78h1.83v1.83h-1.83zM396.60 244.35h1.83v1.83h-1.83zM436.53 244.35h1.83v1.83h-1.83zM395.18 242.93h3.25v1.83h-3.25zM392.33 241.50h1.83v1.83h-1.83zM395.18 241.50h3.25v1.83h-3.25zM436.53 241.50h1.83v1.83h-1.83zM393.75 240.07h1.83v1.83h-1.83zM437.95 240.07h1.83v1.83h-1.83zM388.05 238.65h3.25v1.83h-3.25zM393.75 238.65h1.83v1.83h-1.83zM437.95 238.65h3.25v1.83h-3.25zM378.07 237.22h1.83v1.83h-1.83zM390.90 237.22h1.83v1.83h-1.83zM393.75 237.22h1.83v1.83h-1.83zM439.38 237.22h1.83v1.83h-1.83zM383.77 235.80h1.83v1.83h-1.83zM392.33 235.80h1.83v1.83h-1.83zM392.33 234.37h1.83v1.83h-1.83zM439.38 234.37h1.83v1.83h-1.83zM376.64 232.94h1.83v1.83h-1.83zM379.50 232.94h3.25v1.83h-3.25zM392.33 232.94h1.83v1.83h-1.83zM379.50 231.52h1.83v1.83h-1.83zM392.33 231.52h1.83v1.83h-1.83zM440.80 231.52h1.83v1.83h-1.83zM443.66 231.52h1.83v1.83h-1.83zM392.33 230.09h1.83v1.83h-1.83zM440.80 230.09h1.83v1.83h-1.83zM380.92 228.67h1.83v1.83h-1.83zM376.64 227.24h1.83v1.83h-1.83zM390.90 227.24h1.83v1.83h-1.83zM376.64 225.82h1.83v1.83h-1.83zM382.35 225.82h1.83v1.83h-1.83zM389.48 225.82h3.25v1.83h-3.25zM380.92 224.39h3.25v1.83h-3.25zM389.48 224.39h3.25v1.83h-3.25zM442.23 224.39h1.83v1.83h-1.83zM379.50 222.96h1.83v1.83h-1.83zM383.77 222.96h1.83v1.83h-1.83zM379.50 220.11h1.83v1.83h-1.83zM382.35 220.11h1.83v1.83h-1.83zM388.05 220.11h1.83v1.83h-1.83zM379.50 218.69h1.83v1.83h-1.83zM386.62 218.69h1.83v1.83h-1.83zM390.90 217.26h1.83v1.83h-1.83zM382.35 215.84h3.25v1.83h-3.25zM389.48 215.84h1.83v1.83h-1.83zM390.90 214.41h1.83v1.83h-1.83zM376.64 212.98h3.25v1.83h-3.25zM388.05 212.98h1.83v1.83h-1.83zM440.80 208.71h1.83v1.83h-1.83zM383.77 205.85h1.83v1.83h-1.83zM393.75 205.85h1.83v1.83h-1.83zM395.18 204.43h1.83v1.83h-1.83zM439.38 201.58h1.83v1.83h-1.83zM398.03 200.15h1.83v1.83h-1.83zM433.68 200.15h1.83v1.83h-1.83zM396.60 198.73h3.25v1.83h-3.25zM400.88 197.30h1.83v1.83h-1.83zM429.40 197.30h1.83v1.83h-1.83zM432.25 197.30h1.83v1.83h-1.83zM399.46 194.45h1.83v1.83h-1.83zM408.01 194.45h1.83v1.83h-1.83zM422.27 194.45h1.83v1.83h-1.83zM393.75 193.02h1.83v1.83h-1.83zM408.01 193.02h1.83v1.83h-1.83z"/>
<path fill="#0005ff" d="M415.14 264.31h3.25v1.83h-3.25zM412.29 262.89h1.83v1.83h-1.83zM416.57 262.89h1.83v1.83h-1.83zM419.42 262.89h1.83v1.83h-1.83zM410.86 261.46h3.25v1.83h-3.25zM415.14 261.46h1.83v1.83h-1.83zM408.01 260.03h1.83v1.83h-1.83zM410.86 260.03h1.83v1.83h-1.83zM422.27 260.03h4.68v1.83h-4.68zM408.01 258.61h1.83v1.83h-1.83zM423.69 258.61h3.25v1.83h-3.25zM406.59 257.18h3.25v1.83h-3.25zM425.12 257.18h3.25v1.83h-3.25zM405.16 255.76h3.25v1.83h-3.25zM403.73 254.33h3.25v1.83h-3.25zM429.40 254.33h1.83v1.83h-1.83zM403.73 252.91h1.83v1.83h-1.83zM429.40 252.91h1.83v1.83h-1.83zM402.31 251.48h1.83v1.83h-1.83zM430.82 251.48h1.83v1.83h-1.83zM402.31 250.05h1.83v1.83h-1.83zM432.25 250.05h1.83v1.83h-1.83zM399.46 247.20h1.83v1.83h-1.83zM398.03 244.35h1.83v1.83h-1.83zM398.03 242.93h1.83v1.83h-1.83zM435.10 242.93h1.83v1.83h-1.83zM398.03 241.50h1.83v1.83h-1.83zM396.60 240.07h1.83v1.83h-1.83zM436.53 240.07h1.83v1.83h-1.83zM396.60 238.65h1.83v1.83h-1.83zM436.53 238.65h1.83v1.83h-1.83zM437.95 237.22h1.83v1.83h-1.83zM395.18 235.80h1.83v1.83h-1.83zM393.75 232.94h1.83v1.83h-1.83zM439.38 232.94h1.83v1.83h-1.83zM393.75 231.52h1.83v1.83h-1.83zM439.38 231.52h1.83v1.83h-1.83zM393.75 230.09h1.83v1.83h-1.83zM440.80 227.24h1.83v1.83h-1.83zM440.80 225.82h1.83v1.83h-1.83zM440.80 224.39h1.83v1.83h-1.83zM392.33 214.41h1.83v1.83h-1.83zM440.80 214.41h1.83v1.83h-1.83zM392.33 212.98h1.83v1.83h-1.83zM393.75 210.13h1.83v1.83h-1.83zM439.38 210.13h1.83v1.83h-1.83zM395.18 207.28h1.83v1.83h-1.83zM395.18 205.85h1.83v1.83h-1.83zM396.60 204.43h1.83v1.83h-1.83zM399.46 201.58h1.83v1.83h-1.83zM427.97 197.30h1.83v1.83h-1.83zM420.84 194.45h1.83v1.83h-1.83z"/>
<path fill="#000bff" d="M412.29 260.03h10.38v1.83h-10.38zM410.86 258.61h6.10v1.83h-6.10zM417.99 258.61h6.10v1.83h-6.10zM409.44 257.18h1.83v1.83h-1.83zM422.27 257.18h1.83v1.83h-1.83zM408.01 255.76h3.25v1.83h-3.25zM423.69 255.76h3.25v1.83h-3.25zM426.55 254.33h1.83v1.83h-1.83zM405.16 252.91h3.25v1.83h-3.25zM426.55 252.91h3.25v1.83h-3.25zM427.97 251.48h3.25v1.83h-3.25zM403.73 250.05h1.83v1.83h-1.83zM429.40 250.05h1.83v1.83h-1.83zM402.31 248.63h1.83v1.83h-1.83zM430.82 248.63h1.83v1.83h-1.83zM402.31 247.20h1.83v1.83h-1.83zM430.82 247.20h3.25v1.83h-3.25zM400.88 245.78h1.83v1.83h-1.83zM399.46 244.35h1.83v1.83h-1.83zM399.46 242.93h1.83v1.83h-1.83zM433.68 242.93h1.83v1.83h-1.83zM435.10 241.50h1.83v1.83h-1.83zM398.03 240.07h1.83v1.83h-1.83zM398.03 238.65h1.83v1.83h-1.83zM396.60 237.22h1.83v1.83h-1.83zM436.53 237.22h1.83v1.83h-1.83zM396.60 235.80h1.83v1.83h-1.83zM436.53 235.80h1.83v1.83h-1.83zM395.18 234.37h1.83v1.83h-1.83zM395.18 232.94h1.83v1.83h-1.83zM437.95 232.94h1.83v1.83h-1.83zM395.18 231.52h1.83v1.83h-1.83zM437.95 231.52h1.83v1.83h-1.83zM439.38 230.09h1.83v1.83h-1.83zM393.75 228.67h1.83v1.83h-1.83zM439.38 228.67h1.83v1.83h-1.83zM393.75 227.24h1.83v1.83h-1.83zM439.38 227.24h1.83v1.83h-1.83zM393.75 225.82h1.83v1.83h-1.83zM392.33 222.96h1.83v1.83h-1.83zM392.33 221.54h1.83v1.83h-1.83zM440.80 220.11h1.83v1.83h-1.83zM392.33 218.69h1.83v1.83h-1.83zM440.80 218.69h1.83v1.83h-1.83zM440.80 217.26h1.83v1.83h-1.83zM440.80 215.84h1.83v1.83h-1.83zM393.75 212.98h1.83v1.83h-1.83zM439.38 212.98h1.83v1.83h-1.83zM439.38 211.56h1.83v1.83h-1.83zM395.18 208.71h1.83v1.83h-1.83zM437.95 208.71h1.83v1.83h-1.83zM396.60 205.85h1.83v1.83h-1.83zM398.03 204.43h1.83v1.83h-1.83zM435.10 204.43h1.83v1.83h-1.83zM399.46 203.00h1.83v1.83h-1.83zM400.88 201.58h1.83v1.83h-1.83zM405.16 198.73h1.83v1.83h-1.83zM425.12 197.30h1.83v1.83h-1.83zM415.14 195.87h1.83v1.83h-1.83z"/>
<path fill="#0010ff" d="M416.57 258.61h1.83v1.83h-1.83zM413.71 257.18h7.53v1.83h-7.53zM410.86 255.76h4.68v1.83h-4.68zM419.42 255.76h4.68v1.83h-4.68zM409.44 254.33h3.25v1.83h-3.25zM422.27 254.33h4.68v1.83h-4.68zM408.01 252.91h1.83v1.83h-1.83zM425.12 252.91h1.83v1.83h-1.83zM406.59 251.48h1.83v1.83h-1.83zM426.55 251.48h1.83v1.83h-1.83zM405.16 250.05h1.83v1.83h-1.83zM427.97 250.05h1.83v1.83h-1.83zM403.73 248.63h3.25v1.83h-3.25zM427.97 248.63h3.25v1.83h-3.25zM403.73 247.20h1.83v1.83h-1.83zM429.40 247.20h1.83v1.83h-1.83zM402.31 245.78h1.83v1.83h-1.83zM430.82 245.78h1.83v1.83h-1.83zM400.88 244.35h3.25v1.83h-3.25zM432.25 244.35h1.83v1.83h-1.83zM400.88 242.93h1.83v1.83h-1.83zM432.25 242.93h1.83v1.83h-1.83zM399.46 241.50h1.83v1.83h-1.83zM433.68 241.50h1.83v1.83h-1.83zM399.46 240.07h1.83v1.83h-1.83zM433.68 240.07h1.83v1.83h-1.83zM435.10 238.65h1.83v1.83h-1.83zM398.03 237.22h1.83v1.83h-1.83zM435.10 237.22h1.83v1.83h-1.83zM398.03 235.80h1.83v1.83h-1.83zM396.60 234.37h1.83v1.83h-1.83zM436.53 234.37h1.83v1.83h-1.83zM396.60 232.94h1.83v1.83h-1.83zM395.18 230.09h1.83v1.83h-1.83zM437.95 230.09h1.83v1.83h-1.83zM395.18 228.67h1.83v1.83h-1.83zM437.95 228.67h1.83v1.83h-1.83zM439.38 225.82h1.83v1.83h-1.83zM393.75 224.39h1.83v1.83h-1.83zM439.38 224.39h1.83v1.83h-1.83zM439.38 222.96h1.83v1.83h-1.83zM393.75 221.54h1.83v1.83h-1.83zM393.75 220.11h1.83v1.83h-1.83zM439.38 220.11h1.83v1.83h-1.83zM393.75 218.69h1.83v1.83h-1.83zM439.38 218.69h1.83v1.83h-1.83zM393.75 217.26h1.83v1.83h-1.83zM439.38 217.26h1.83v1.83h-1.83zM393.75 215.84h1.83v1.83h-1.83zM439.38 215.84h1.83v1.83h-1.83zM393.75 214.41h1.83v1.83h-1.83zM439.38 214.41h1.83v1.83h-1.83zM395.18 211.56h1.83v1.83h-1.83zM437.95 211.56h1.83v1.83h-1.83zM395.18 210.13h1.83v1.83h-1.83zM437.95 210.13h1.83v1.83h-1.83zM396.60 208.71h1.83v1.83h-1.83zM396.60 207.28h1.83v1.83h-1.83zM398.03 205.85h1.83v1.83h-1.83zM400.88 203.00h1.83v1.83h-1.83zM402.31 201.58h1.83v1.83h-1.83zM409.44 197.30h3.25v1.83h-3.25z"/>
<path fill="#0015ff" d="M415.14 255.76h1.83v1.83h-1.83zM417.99 255.76h1.83v1.83h-1.83zM412.29 254.33h10.38v1.83h-10.38zM409.44 252.91h6.10v1.83h-6.10zM420.84 252.91h3.25v1.83h-3.25zM408.01 251.48h3.25v1.83h-3.25zM423.69 251.48h3.25v1.83h-3.25zM406.59 250.05h3.25v1.83h-3.25zM425.12 250.05h3.25v1.83h-3.25zM406.59 248.63h1.83v1.83h-1.83zM426.55 248.63h1.83v1.83h-1.83zM427.97 247.20h1.83v1.83h-1.83zM403.73 245.78h1.83v1.83h-1.83zM429.40 245.78h1.83v1.83h-1.83zM403.73 244.35h1.83v1.83h-1.83zM429.40 244.35h1.83v1.83h-1.83zM402.31 242.93h1.83v1.83h-1.83zM430.82 242.93h1.83v1.83h-1.83zM400.88 241.50h1.83v1.83h-1.83zM432.25 241.50h1.83v1.83h-1.83zM400.88 240.07h1.83v1.83h-1.83zM432.25 240.07h1.83v1.83h-1.83zM399.46 238.65h1.83v1.83h-1.83zM433.68 238.65h1.83v1.83h-1.83zM399.46 237.22h1.83v1.83h-1.83zM433.68 237.22h1.83v1.83h-1.83zM435.10 235.80h1.83v1.83h-1.83zM398.03 234.37h1.83v1.83h-1.83zM435.10 234.37h1.83v1.83h-1.83zM398.03 232.94h1.83v1.83h-1.83zM435.10 232.94h1.83v1.83h-1.83zM396.60 231.52h1.83v1.83h-1.83zM436.53 231.52h1.83v1.83h-1.83zM396.60 230.09h1.83v1.83h-1.83zM436.53 230.09h1.83v1.83h-1.83zM396.60 228.67h1.83v1.83h-1.83zM395.18 227.24h1.83v1.83h-1.83zM437.95 227.24h1.83v1.83h-1.83zM395.18 225.82h1.83v1.83h-1.83zM437.95 225.82h1.83v1.83h-1.83zM395.18 224.39h1.83v1.83h-1.83zM437.95 224.39h1.83v1.83h-1.83zM395.18 222.96h1.83v1.83h-1.83zM437.95 222.96h1.83v1.83h-1.83zM395.18 217.26h1.83v1.83h-1.83zM395.18 215.84h1.83v1.83h-1.83zM437.95 215.84h1.83v1.83h-1.83zM395.18 214.41h1.83v1.83h-1.83zM437.95 214.41h1.83v1.83h-1.83zM395.18 212.98h1.83v1.83h-1.83zM437.95 212.98h1.83v1.83h-1.83zM396.60 210.13h1.83v1.83h-1.83zM436.53 210.13h1.83v1.83h-1.83zM398.03 207.28h1.83v1.83h-1.83zM435.10 207.28h1.83v1.83h-1.83zM433.68 205.85h1.83v1.83h-1.83zM400.88 204.43h1.83v1.83h-1.83zM432.25 204.43h1.83v1.83h-1.83zM430.82 203.00h1.83v1.83h-1.83zM422.27 198.73h1.83v1.83h-1.83zM416.57 197.30h1.83v1.83h-1.83z"/>
<path fill="#001fff" d="M415.14 252.91h6.10v1.83h-6.10zM410.86 251.48h13.23v1.83h-13.23zM409.44 250.05h4.68v1.83h-4.68zM420.84 250.05h1.83v1.83h-1.83zM423.69 250.05h1.83v1.83h-1.83zM408.01 248.63h3.25v1.83h-3.25zM423.69 248.63h3.25v1.83h-3.25zM406.59 247.20h3.25v1.83h-3.25zM425.12 247.20h3.25v1.83h-3.25zM406.59 245.78h1.83v1.83h-1.83zM426.55 245.78h3.25v1.83h-3.25zM405.16 244.35h1.83v1.83h-1.83zM427.97 244.35h1.83v1.83h-1.83zM403.73 242.93h1.83v1.83h-1.83zM429.40 242.93h1.83v1.83h-1.83zM402.31 241.50h3.25v1.83h-3.25zM429.40 241.50h3.25v1.83h-3.25zM402.31 240.07h1.83v1.83h-1.83zM430.82 240.07h1.83v1.83h-1.83zM400.88 238.65h1.83v1.83h-1.83zM432.25 238.65h1.83v1.83h-1.83zM400.88 237.22h1.83v1.83h-1.83zM432.25 237.22h1.83v1.83h-1.83zM399.46 235.80h1.83v1.83h-1.83zM433.68 235.80h1.83v1.83h-1.83zM399.46 234.37h1.83v1.83h-1.83zM433.68 234.37h1.83v1.83h-1.83zM398.03 231.52h1.83v1.83h-1.83zM435.10 231.52h1.83v1.83h-1.83zM398.03 230.09h1.83v1.83h-1.83zM435.10 230.09h1.83v1.83h-1.83zM436.53 228.67h1.83v1.83h-1.83zM396.60 227.24h1.83v1.83h-1.83zM436.53 227.24h1.83v1.83h-1.83zM396.60 225.82h1.83v1.83h-1.83zM436.53 225.82h1.83v1.83h-1.83zM395.18 221.54h1.83v1.83h-1.83zM437.95 221.54h1.83v1.83h-1.83zM395.18 220.11h1.83v1.83h-1.83zM437.95 220.11h1.83v1.83h-1.83zM395.18 218.69h1.83v1.83h-1.83zM437.95 218.69h1.83v1.83h-1.83zM437.95 217.26h1.83v1.83h-1.83zM396.60 214.41h1.83v1.83h-1.83zM436.53 214.41h1.83v1.83h-1.83zM396.60 212.98h1.83v1.83h-1.83zM436.53 212.98h1.83v1.83h-1.83zM396.60 211.56h1.83v1.83h-1.83zM436.53 211.56h1.83v1.83h-1.83zM398.03 210.13h1.83v1.83h-1.83zM435.10 210.13h1.83v1.83h-1.83zM398.03 208.71h1.83v1.83h-1.83zM435.10 208.71h1.83v1.83h-1.83zM399.46 207.28h1.83v1.83h-1.83zM433.68 207.28h1.83v1.83h-1.83zM400.88 205.85h1.83v1.83h-1.83zM432.25 205.85h1.83v1.83h-1.83zM402.31 204.43h1.83v1.83h-1.83zM430.82 204.43h1.83v1.83h-1.83zM403.73 203.00h1.83v1.83h-1.83zM429.40 203.00h1.83v1.83h-1.83zM405.16 201.58h3.25v1.83h-3.25zM427.97 201.58h1.83v1.83h-1.83zM408.01 200.15h3.25v1.83h-3.25zM423.69 200.15h1.83v1.83h-1.83zM412.29 198.73h3.25v1.83h-3.25zM419.42 198.73h1.83v1.83h-1.83z"/>
<path fill="#0028ff" d="M413.71 250.05h7.53v1.83h-7.53zM410.86 248.63h6.10v1.83h-6.10zM417.99 248.63h6.10v1.83h-6.10zM409.44 247.20h3.25v1.83h-3.25zM422.27 247.20h3.25v1.83h-3.25zM408.01 245.78h3.25v1.83h-3.25zM423.69 245.78h3.25v1.83h-3.25zM406.59 244.35h1.83v1.83h-1.83zM426.55 244.35h1.83v1.83h-1.83zM405.16 242.93h3.25v1.83h-3.25zM427.97 242.93h1.83v1.83h-1.83zM405.16 241.50h1.83v1.83h-1.83zM427.97 241.50h1.83v1.83h-1.83zM403.73 240.07h1.83v1.83h-1.83zM429.40 240.07h1.83v1.83h-1.83zM402.31 238.65h1.83v1.83h-1.83zM430.82 238.65h1.83v1.83h-1.83zM402.31 237.22h1.83v1.83h-1.83zM430.82 237.22h1.83v1.83h-1.83zM400.88 235.80h1.83v1.83h-1.83zM432.25 235.80h1.83v1.83h-1.83zM400.88 234.37h1.83v1.83h-1.83zM432.25 234.37h1.83v1.83h-1.83zM399.46 232.94h1.83v1.83h-1.83zM433.68 232.94h1.83v1.83h-1.83zM399.46 231.52h1.83v1.83h-1.83zM433.68 231.52h1.83v1.83h-1.83zM398.03 228.67h1.83v1.83h-1.83zM435.10 228.67h1.83v1.83h-1.83zM398.03 227.24h1.83v1.83h-1.83zM435.10 227.24h1.83v1.83h-1.83zM396.60 224.39h1.83v1.83h-1.83zM436.53 224.39h1.83v1.83h-1.83zM396.60 222.96h1.83v1.83h-1.83zM436.53 222.96h1.83v1.83h-1.83zM396.60 221.54h1.83v1.83h-1.83zM436.53 221.54h1.83v1.83h-1.83zM396.60 220.11h1.83v1.83h-1.83zM436.53 220.11h1.83v1.83h-1.83zM396.60 218.69h1.83v1.83h-1.83zM436.53 218.69h1.83v1.83h-1.83zM396.60 217.26h1.83v1.83h-1.83zM436.53 217.26h1.83v1.83h-1.83zM396.60 215.84h1.83v1.83h-1.83zM436.53 215.84h1.83v1.83h-1.83zM398.03 212.98h1.83v1.83h-1.83zM435.10 212.98h1.83v1.83h-1.83zM398.03 211.56h1.83v1.83h-1.83zM435.10 211.56h1.83v1.83h-1.83zM399.46 210.13h1.83v1.83h-1.83zM399.46 208.71h1.83v1.83h-1.83zM433.68 208.71h1.83v1.83h-1.83zM400.88 207.28h1.83v1.83h-1.83zM432.25 207.28h1.83v1.83h-1.83zM402.31 205.85h1.83v1.83h-1.83zM430.82 205.85h1.83v1.83h-1.83zM403.73 204.43h1.83v1.83h-1.83zM429.40 204.43h1.83v1.83h-1.83zM405.16 203.00h1.83v1.83h-1.83zM427.97 203.00h1.83v1.83h-1.83zM408.01 201.58h1.83v1.83h-1.83zM425.12 201.58h3.25v1.83h-3.25zM410.86 200.15h4.68v1.83h-4.68zM419.42 200.15h4.68v1.83h-4.68z"/>
<path fill="#0032ff" d="M416.57 248.63h1.83v1.83h-1.83zM412.29 247.20h10.38v1.83h-10.38zM410.86 245.78h3.25v1.83h-3.25zM420.84 245.78h3.25v1.83h-3.25zM408.01 244.35h3.25v1.83h-3.25zM423.69 244.35h3.25v1.83h-3.25zM408.01 242.93h1.83v1.83h-1.83zM425.12 242.93h3.25v1.83h-3.25zM406.59 241.50h1.83v1.83h-1.83zM426.55 241.50h1.83v1.83h-1.83zM405.16 240.07h1.83v1.83h-1.83zM427.97 240.07h1.83v1.83h-1.83zM403.73 238.65h1.83v1.83h-1.83zM429.40 238.65h1.83v1.83h-1.83zM403.73 237.22h1.83v1.83h-1.83zM429.40 237.22h1.83v1.83h-1.83zM402.31 235.80h1.83v1.83h-1.83zM430.82 235.80h1.83v1.83h-1.83zM402.31 234.37h1.83v1.83h-1.83zM430.82 234.37h1.83v1.83h-1.83zM400.88 232.94h1.83v1.83h-1.83zM432.25 232.94h1.83v1.83h-1.83zM400.88 231.52h1.83v1.83h-1.83zM432.25 231.52h1.83v1.83h-1.83zM399.46 230.09h1.83v1.83h-1.83zM433.68 230.09h1.83v1.83h-1.83zM399.46 228.67h1.83v1.83h-1.83zM433.68 228.67h1.83v1.83h-1.83zM398.03 225.82h1.83v1.83h-1.83zM435.10 225.82h1.83v1.83h-1.83zM398.03 224.39h1.83v1.83h-1.83zM435.10 224.39h1.83v1.83h-1.83zM398.03 222.96h1.83v1.83h-1.83zM435.10 222.96h1.83v1.83h-1.83zM398.03 221.54h1.83v1.83h-1.83zM435.10 221.54h1.83v1.83h-1.83zM398.03 220.11h1.83v1.83h-1.83zM435.10 220.11h1.83v1.83h-1.83zM398.03 218.69h1.83v1.83h-1.83zM435.10 218.69h1.83v1.83h-1.83zM398.03 217.26h1.83v1.83h-1.83zM435.10 217.26h1.83v1.83h-1.83zM398.03 215.84h1.83v1.83h-1.83zM435.10 215.84h1.83v1.83h-1.83zM398.03 214.41h1.83v1.83h-1.83zM435.10 214.41h1.83v1.83h-1.83zM399.46 211.56h1.83v1.83h-1.83zM433.68 211.56h1.83v1.83h-1.83zM433.68 210.13h1.83v1.83h-1.83zM400.88 208.71h1.83v1.83h-1.83zM432.25 208.71h1.83v1.83h-1.83zM402.31 207.28h1.83v1.83h-1.83zM430.82 207.28h1.83v1.83h-1.83zM403.73 205.85h1.83v1.83h-1.83zM429.40 205.85h1.83v1.83h-1.83zM405.16 204.43h1.83v1.83h-1.83zM427.97 204.43h1.83v1.83h-1.83zM406.59 203.00h3.25v1.83h-3.25zM425.12 203.00h3.25v1.83h-3.25zM409.44 201.58h3.25v1.83h-3.25zM422.27 201.58h3.25v1.83h-3.25zM415.14 200.15h4.68v1.83h-4.68z"/>
<path fill="#003cff" d="M413.71 245.78h7.53v1.83h-7.53zM410.86 244.35h6.10v1.83h-6.10zM417.99 244.35h6.10v1.83h-6.10zM409.44 242.93h3.25v1.83h-3.25zM422.27 242.93h3.25v1.83h-3.25zM408.01 241.50h3.25v1.83h-3.25zM423.69 241.50h3.25v1.83h-3.25zM406.59 240.07h1.83v1.83h-1.83zM426.55 240.07h1.83v1.83h-1.83zM405.16 238.65h3.25v1.83h-3.25zM426.55 238.65h3.25v1.83h-3.25zM405.16 237.22h1.83v1.83h-1.83zM427.97 237.22h1.83v1.83h-1.83zM403.73 235.80h1.83v1.83h-1.83zM429.40 235.80h1.83v1.83h-1.83zM403.73 234.37h1.83v1.83h-1.83zM402.31 232.94h1.83v1.83h-1.83zM430.82 232.94h1.83v1.83h-1.83zM400.88 230.09h1.83v1.83h-1.83zM432.25 230.09h1.83v1.83h-1.83zM400.88 228.67h1.83v1.83h-1.83zM432.25 228.67h1.83v1.83h-1.83zM399.46 227.24h1.83v1.83h-1.83zM433.68 227.24h1.83v1.83h-1.83zM399.46 225.82h1.83v1.83h-1.83zM433.68 225.82h1.83v1.83h-1.83zM399.46 224.39h1.83v1.83h-1.83zM433.68 224.39h1.83v1.83h-1.83zM399.46 215.84h1.83v1.83h-1.83zM399.46 214.41h1.83v1.83h-1.83zM433.68 214.41h1.83v1.83h-1.83zM399.46 212.98h1.83v1.83h-1.83zM433.68 212.98h1.83v1.83h-1.83zM400.88 211.56h1.83v1.83h-1.83zM432.25 211.56h1.83v1.83h-1.83zM400.88 210.13h1.83v1.83h-1.83zM432.25 210.13h1.83v1.83h-1.83zM402.31 208.71h1.83v1.83h-1.83zM430.82 208.71h1.83v1.83h-1.83zM403.73 207.28h1.83v1.83h-1.83zM429.40 207.28h1.83v1.83h-1.83zM405.16 205.85h1.83v1.83h-1.83zM427.97 205.85h1.83v1.83h-1.83zM406.59 204.43h1.83v1.83h-1.83zM426.55 204.43h1.83v1.83h-1.83zM409.44 203.00h1.83v1.83h-1.83zM423.69 203.00h1.83v1.83h-1.83zM412.29 201.58h10.38v1.83h-10.38z"/>
<path fill="#004cff" d="M416.57 244.35h1.83v1.83h-1.83zM412.29 242.93h10.38v1.83h-10.38zM410.86 241.50h3.25v1.83h-3.25zM420.84 241.50h3.25v1.83h-3.25zM408.01 240.07h3.25v1.83h-3.25zM423.69 240.07h3.25v1.83h-3.25zM408.01 238.65h1.83v1.83h-1.83zM425.12 238.65h1.83v1.83h-1.83zM406.59 237.22h1.83v1.83h-1.83zM426.55 237.22h1.83v1.83h-1.83zM405.16 235.80h1.83v1.83h-1.83zM427.97 235.80h1.83v1.83h-1.83zM429.40 234.37h1.83v1.83h-1.83zM403.73 232.94h1.83v1.83h-1.83zM429.40 232.94h1.83v1.83h-1.83zM402.31 231.52h1.83v1.83h-1.83zM430.82 231.52h1.83v1.83h-1.83zM402.31 230.09h1.83v1.83h-1.83zM430.82 230.09h1.83v1.83h-1.83zM400.88 227.24h1.83v1.83h-1.83zM432.25 227.24h1.83v1.83h-1.83zM400.88 225.82h1.83v1.83h-1.83zM432.25 225.82h1.83v1.83h-1.83zM399.46 222.96h1.83v1.83h-1.83zM433.68 222.96h1.83v1.83h-1.83zM399.46 221.54h1.83v1.83h-1.83zM433.68 221.54h1.83v1.83h-1.83zM399.46 220.11h1.83v1.83h-1.83zM433.68 220.11h1.83v1.83h-1.83zM399.46 218.69h1.83v1.83h-1.83zM433.68 218.69h1.83v1.83h-1.83zM399.46 217.26h1.83v1.83h-1.83zM433.68 217.26h1.83v1.83h-1.83zM433.68 215.84h1.83v1.83h-1.83zM400.88 214.41h1.83v1.83h-1.83zM400.88 212.98h1.83v1.83h-1.83zM432.25 212.98h1.83v1.83h-1.83zM402.31 210.13h1.83v1.83h-1.83zM430.82 210.13h1.83v1.83h-1.83zM403.73 208.71h1.83v1.83h-1.83zM429.40 208.71h1.83v1.83h-1.83zM405.16 207.28h1.83v1.83h-1.83zM427.97 207.28h1.83v1.83h-1.83zM406.59 205.85h1.83v1.83h-1.83zM426.55 205.85h1.83v1.83h-1.83zM408.01 204.43h3.25v1.83h-3.25zM423.69 204.43h3.25v1.83h-3.25zM410.86 203.00h6.10v1.83h-6.10zM417.99 203.00h6.10v1.83h-6.10z"/>
<path fill="#005eff" d="M413.71 241.50h7.53v1.83h-7.53zM410.86 240.07h4.68v1.83h-4.68zM419.42 240.07h4.68v1.83h-4.68zM409.44 238.65h3.25v1.83h-3.25zM422.27 238.65h3.25v1.83h-3.25zM408.01 237.22h1.83v1.83h-1.83zM425.12 237.22h1.83v1.83h-1.83zM406.59 235.80h1.83v1.83h-1.83zM426.55 235.80h1.83v1.83h-1.83zM405.16 234.37h3.25v1.83h-3.25zM426.55 234.37h3.25v1.83h-3.25zM405.16 232.94h1.83v1.83h-1.83zM427.97 232.94h1.83v1.83h-1.83zM403.73 231.52h1.83v1.83h-1.83zM429.40 231.52h1.83v1.83h-1.83zM403.73 230.09h1.83v1.83h-1.83zM429.40 230.09h1.83v1.83h-1.83zM402.31 228.67h1.83v1.83h-1.83zM430.82 228.67h1.83v1.83h-1.83zM402.31 227.24h1.83v1.83h-1.83zM430.82 227.24h1.83v1.83h-1.83zM400.88 224.39h1.83v1.83h-1.83zM432.25 224.39h1.83v1.83h-1.83zM400.88 222.96h1.83v1.83h-1.83zM432.25 222.96h1.83v1.83h-1.83zM400.88 221.54h1.83v1.83h-1.83zM432.25 221.54h1.83v1.83h-1.83zM400.88 220.11h1.83v1.83h-1.83zM432.25 220.11h1.83v1.83h-1.83zM400.88 218.69h1.83v1.83h-1.83zM432.25 218.69h1.83v1.83h-1.83zM400.88 217.26h1.83v1.83h-1.83zM432.25 217.26h1.83v1.83h-1.83zM400.88 215.84h1.83v1.83h-1.83zM432.25 215.84h1.83v1.83h-1.83zM432.25 214.41h1.83v1.83h-1.83zM402.31 212.98h1.83v1.83h-1.83zM430.82 212.98h1.83v1.83h-1.83zM402.31 211.56h1.83v1.83h-1.83zM430.82 211.56h1.83v1.83h-1.83zM403.73 210.13h1.83v1.83h-1.83zM429.40 210.13h1.83v1.83h-1.83zM405.16 208.71h1.83v1.83h-1.83zM427.97 208.71h1.83v1.83h-1.83zM406.59 207.28h1.83v1.83h-1.83zM426.55 207.28h1.83v1.83h-1.83zM408.01 205.85h1.83v1.83h-1.83zM425.12 205.85h1.83v1.83h-1.83zM410.86 204.43h3.25v1.83h-3.25zM420.84 204.43h3.25v1.83h-3.25zM416.57 203.00h1.83v1.83h-1.83z"/>
<path fill="#006fff" d="M415.14 240.07h4.68v1.83h-4.68zM412.29 238.65h4.68v1.83h-4.68zM417.99 238.65h4.68v1.83h-4.68zM409.44 237.22h3.25v1.83h-3.25zM422.27 237.22h3.25v1.83h-3.25zM408.01 235.80h3.25v1.83h-3.25zM423.69 235.80h3.25v1.83h-3.25zM408.01 234.37h1.83v1.83h-1.83zM425.12 234.37h1.83v1.83h-1.83zM406.59 232.94h1.83v1.83h-1.83zM426.55 232.94h1.83v1.83h-1.83zM405.16 231.52h1.83v1.83h-1.83zM427.97 231.52h1.83v1.83h-1.83zM405.16 230.09h1.83v1.83h-1.83zM427.97 230.09h1.83v1.83h-1.83zM403.73 228.67h1.83v1.83h-1.83zM429.40 228.67h1.83v1.83h-1.83zM403.73 227.24h1.83v1.83h-1.83zM429.40 227.24h1.83v1.83h-1.83zM402.31 225.82h1.83v1.83h-1.83zM430.82 225.82h1.83v1.83h-1.83zM402.31 224.39h1.83v1.83h-1.83zM430.82 224.39h1.83v1.83h-1.83zM402.31 222.96h1.83v1.83h-1.83zM430.82 222.96h1.83v1.83h-1.83zM402.31 215.84h1.83v1.83h-1.83zM430.82 215.84h1.83v1.83h-1.83zM402.31 214.41h1.83v1.83h-1.83zM430.82 214.41h1.83v1.83h-1.83zM403.73 211.56h1.83v1.83h-1.83zM429.40 211.56h1.83v1.83h-1.83zM405.16 210.13h1.83v1.83h-1.83zM427.97 210.13h1.83v1.83h-1.83zM406.59 208.71h1.83v1.83h-1.83zM426.55 208.71h1.83v1.83h-1.83zM408.01 207.28h1.83v1.83h-1.83zM425.12 207.28h1.83v1.83h-1.83zM409.44 205.85h3.25v1.83h-3.25zM422.27 205.85h3.25v1.83h-3.25zM413.71 204.43h7.53v1.83h-7.53z"/>
<path fill="#0088ff" d="M416.57 238.65h1.83v1.83h-1.83zM412.29 237.22h10.38v1.83h-10.38zM410.86 235.80h1.83v1.83h-1.83zM422.27 235.80h1.83v1.83h-1.83zM409.44 234.37h1.83v1.83h-1.83zM423.69 234.37h1.83v1.83h-1.83zM408.01 232.94h1.83v1.83h-1.83zM425.12 232.94h1.83v1.83h-1.83zM406.59 231.52h1.83v1.83h-1.83zM426.55 231.52h1.83v1.83h-1.83zM405.16 228.67h1.83v1.83h-1.83zM427.97 228.67h1.83v1.83h-1.83zM403.73 225.82h1.83v1.83h-1.83zM429.40 225.82h1.83v1.83h-1.83zM403.73 224.39h1.83v1.83h-1.83zM429.40 224.39h1.83v1.83h-1.83zM402.31 221.54h1.83v1.83h-1.83zM430.82 221.54h1.83v1.83h-1.83zM402.31 220.11h1.83v1.83h-1.83zM430.82 220.11h1.83v1.83h-1.83zM402.31 218.69h1.83v1.83h-1.83zM430.82 218.69h1.83v1.83h-1.83zM402.31 217.26h1.83v1.83h-1.83zM430.82 217.26h1.83v1.83h-1.83zM403.73 214.41h1.83v1.83h-1.83zM429.40 214.41h1.83v1.83h-1.83zM403.73 212.98h1.83v1.83h-1.83zM429.40 212.98h1.83v1.83h-1.83zM405.16 211.56h1.83v1.83h-1.83zM427.97 211.56h1.83v1.83h-1.83zM406.59 210.13h1.83v1.83h-1.83zM426.55 210.13h1.83v1.83h-1.83zM408.01 208.71h1.83v1.83h-1.83zM425.12 208.71h1.83v1.83h-1.83zM409.44 207.28h1.83v1.83h-1.83zM423.69 207.28h1.83v1.83h-1.83zM412.29 205.85h10.38v1.83h-10.38z"/>
<path fill="#00a2ff" d="M412.29 235.80h3.25v1.83h-3.25zM419.42 235.80h3.25v1.83h-3.25zM410.86 234.37h1.83v1.83h-1.83zM422.27 234.37h1.83v1.83h-1.83zM409.44 232.94h1.83v1.83h-1.83zM423.69 232.94h1.83v1.83h-1.83zM408.01 231.52h1.83v1.83h-1.83zM425.12 231.52h1.83v1.83h-1.83zM406.59 230.09h1.83v1.83h-1.83zM426.55 230.09h1.83v1.83h-1.83zM405.16 227.24h1.83v1.83h-1.83zM427.97 227.24h1.83v1.83h-1.83zM403.73 222.96h1.83v1.83h-1.83zM429.40 222.96h1.83v1.83h-1.83zM403.73 221.54h1.83v1.83h-1.83zM403.73 217.26h1.83v1.83h-1.83zM429.40 217.26h1.83v1.83h-1.83zM403.73 215.84h1.83v1.83h-1.83zM429.40 215.84h1.83v1.83h-1.83zM405.16 212.98h1.83v1.83h-1.83zM427.97 212.98h1.83v1.83h-1.83zM410.86 207.28h1.83v1.83h-1.83zM422.27 207.28h1.83v1.83h-1.83z"/>
<path fill="#00a7ff" d="M415.14 235.80h4.68v1.83h-4.68zM412.29 234.37h1.83v1.83h-1.83zM420.84 234.37h1.83v1.83h-1.83zM406.59 228.67h1.83v1.83h-1.83zM426.55 228.67h1.83v1.83h-1.83zM405.16 225.82h1.83v1.83h-1.83zM427.97 225.82h1.83v1.83h-1.83zM429.40 221.54h1.83v1.83h-1.83zM403.73 220.11h1.83v1.83h-1.83zM429.40 220.11h1.83v1.83h-1.83zM403.73 218.69h1.83v1.83h-1.83zM429.40 218.69h1.83v1.83h-1.83zM406.59 211.56h1.83v1.83h-1.83zM426.55 211.56h1.83v1.83h-1.83zM408.01 210.13h1.83v1.83h-1.83zM425.12 210.13h1.83v1.83h-1.83zM409.44 208.71h1.83v1.83h-1.83zM423.69 208.71h1.83v1.83h-1.83zM412.29 207.28h1.83v1.83h-1.83zM420.84 207.28h1.83v1.83h-1.83z"/>
<path fill="#00b4ff" d="M413.71 234.37h1.83v1.83h-1.83zM419.42 234.37h1.83v1.83h-1.83zM410.86 232.94h1.83v1.83h-1.83zM422.27 232.94h1.83v1.83h-1.83zM409.44 231.52h1.83v1.83h-1.83zM423.69 231.52h1.83v1.83h-1.83zM408.01 230.09h1.83v1.83h-1.83zM425.12 230.09h1.83v1.83h-1.83zM405.16 224.39h1.83v1.83h-1.83zM427.97 224.39h1.83v1.83h-1.83zM405.16 214.41h1.83v1.83h-1.83zM427.97 214.41h1.83v1.83h-1.83zM410.86 208.71h1.83v1.83h-1.83zM413.71 207.28h7.53v1.83h-7.53z"/>
<path fill="#00c9ff" d="M415.14 234.37h4.68v1.83h-4.68zM406.59 227.24h1.83v1.83h-1.83zM426.55 227.24h1.83v1.83h-1.83zM405.16 222.96h1.83v1.83h-1.83zM427.97 222.96h1.83v1.83h-1.83zM405.16 215.84h1.83v1.83h-1.83zM427.97 215.84h1.83v1.83h-1.83zM406.59 212.98h1.83v1.83h-1.83zM426.55 212.98h1.83v1.83h-1.83zM422.27 208.71h1.83v1.83h-1.83z"/>
<path fill="#00dfff" d="M412.29 232.94h1.83v1.83h-1.83zM420.84 232.94h1.83v1.83h-1.83zM410.86 231.52h1.83v1.83h-1.83zM422.27 231.52h1.83v1.83h-1.83zM409.44 230.09h1.83v1.83h-1.83zM423.69 230.09h1.83v1.83h-1.83zM408.01 228.67h1.83v1.83h-1.83zM425.12 228.67h1.83v1.83h-1.83zM406.59 225.82h1.83v1.83h-1.83zM426.55 225.82h1.83v1.83h-1.83zM405.16 221.54h1.83v1.83h-1.83zM427.97 221.54h1.83v1.83h-1.83zM405.16 220.11h1.83v1.83h-1.83zM427.97 220.11h1.83v1.83h-1.83zM405.16 218.69h1.83v1.83h-1.83zM427.97 218.69h1.83v1.83h-1.83zM405.16 217.26h1.83v1.83h-1.83zM427.97 217.26h1.83v1.83h-1.83zM408.01 211.56h1.83v1.83h-1.83zM425.12 211.56h1.83v1.83h-1.83zM409.44 210.13h1.83v1.83h-1.83zM423.69 210.13h1.83v1.83h-1.83zM412.29 208.71h1.83v1.83h-1.83zM420.84 208.71h1.83v1.83h-1.83z"/>
<path fill="#00f4ff" d="M413.71 232.94h3.25v1.83h-3.25zM417.99 232.94h3.25v1.83h-3.25zM406.59 214.41h1.83v1.83h-1.83zM426.55 214.41h1.83v1.83h-1.83zM413.71 208.71h1.83v1.83h-1.83zM419.42 208.71h1.83v1.83h-1.83z"/>
<path fill="#00ffea" d="M416.57 232.94h1.83v1.83h-1.83zM412.29 231.52h1.83v1.83h-1.83zM420.84 231.52h1.83v1.83h-1.83zM410.86 230.09h1.83v1.83h-1.83zM422.27 230.09h1.83v1.83h-1.83zM409.44 228.67h1.83v1.83h-1.83zM423.69 228.67h1.83v1.83h-1.83zM408.01 227.24h1.83v1.83h-1.83zM425.12 227.24h1.83v1.83h-1.83zM406.59 224.39h1.83v1.83h-1.83zM426.55 224.39h1.83v1.83h-1.83zM406.59 215.84h1.83v1.83h-1.83zM426.55 215.84h1.83v1.83h-1.83zM408.01 212.98h1.83v1.83h-1.83zM425.12 212.98h1.83v1.83h-1.83zM409.44 211.56h1.83v1.83h-1.83zM423.69 211.56h1.83v1.83h-1.83zM410.86 210.13h1.83v1.83h-1.83zM422.27 210.13h1.83v1.83h-1.83zM415.14 208.71h4.68v1.83h-4.68z"/>
<path fill="#00ffbf" d="M413.71 231.52h1.83v1.83h-1.83zM419.42 231.52h1.83v1.83h-1.83zM408.01 225.82h1.83v1.83h-1.83zM425.12 225.82h1.83v1.83h-1.83zM406.59 222.96h1.83v1.83h-1.83zM426.55 222.96h1.83v1.83h-1.83zM406.59 217.26h1.83v1.83h-1.83zM426.55 217.26h1.83v1.83h-1.83zM412.29 210.13h1.83v1.83h-1.83zM420.84 210.13h1.83v1.83h-1.83z"/>
<path fill="#00ff95" d="M415.14 231.52h4.68v1.83h-4.68zM412.29 230.09h1.83v1.83h-1.83zM420.84 230.09h1.83v1.83h-1.83zM409.44 227.24h1.83v1.83h-1.83zM423.69 227.24h1.83v1.83h-1.83zM406.59 221.54h1.83v1.83h-1.83zM426.55 221.54h1.83v1.83h-1.83zM406.59 220.11h1.83v1.83h-1.83zM426.55 220.11h1.83v1.83h-1.83zM406.59 218.69h1.83v1.83h-1.83zM426.55 218.69h1.83v1.83h-1.83zM408.01 214.41h1.83v1.83h-1.83zM425.12 214.41h1.83v1.83h-1.83z"/>
<path fill="#00ff6e" d="M413.71 230.09h1.83v1.83h-1.83zM419.42 230.09h1.83v1.83h-1.83zM410.86 228.67h1.83v1.83h-1.83zM422.27 228.67h1.83v1.83h-1.83zM408.01 224.39h1.83v1.83h-1.83zM425.12 224.39h1.83v1.83h-1.83zM409.44 212.98h1.83v1.83h-1.83zM423.69 212.98h1.83v1.83h-1.83zM410.86 211.56h1.83v1.83h-1.83zM422.27 211.56h1.83v1.83h-1.83zM413.71 210.13h3.25v1.83h-3.25zM417.99 210.13h3.25v1.83h-3.25z"/>
<path fill="#00ff4c" d="M415.14 230.09h1.83v1.83h-1.83zM417.99 230.09h1.83v1.83h-1.83zM412.29 228.67h1.83v1.83h-1.83zM420.84 228.67h1.83v1.83h-1.83zM409.44 225.82h1.83v1.83h-1.83zM423.69 225.82h1.83v1.83h-1.83zM408.01 222.96h1.83v1.83h-1.83zM425.12 222.96h1.83v1.83h-1.83zM408.01 215.84h1.83v1.83h-1.83zM425.12 215.84h1.83v1.83h-1.83zM412.29 211.56h1.83v1.83h-1.83zM416.57 210.13h1.83v1.83h-1.83z"/>
<path fill="#00ff2a" d="M416.57 230.09h1.83v1.83h-1.83zM410.86 227.24h1.83v1.83h-1.83zM422.27 227.24h1.83v1.83h-1.83zM408.01 221.54h1.83v1.83h-1.83zM425.12 221.54h1.83v1.83h-1.83zM408.01 218.69h1.83v1.83h-1.83zM408.01 217.26h1.83v1.83h-1.83zM425.12 217.26h1.83v1.83h-1.83zM409.44 214.41h1.83v1.83h-1.83zM423.69 214.41h1.83v1.83h-1.83zM410.86 212.98h1.83v1.83h-1.83zM422.27 212.98h1.83v1.83h-1.83zM420.84 211.56h1.83v1.83h-1.83z"/>
<path fill="#00ff08" d="M413.71 228.67h1.83v1.83h-1.83zM419.42 228.67h1.83v1.83h-1.83zM409.44 224.39h1.83v1.83h-1.83zM423.69 224.39h1.83v1.83h-1.83zM408.01 220.11h1.83v1.83h-1.83zM425.12 220.11h1.83v1.83h-1.83zM425.12 218.69h1.83v1.83h-1.83zM413.71 211.56h1.83v1.83h-1.83zM419.42 211.56h1.83v1.83h-1.83z"/>
<path fill="#1dff00" d="M415.14 228.67h4.68v1.83h-4.68zM412.29 227.24h1.83v1.83h-1.83zM420.84 227.24h1.83v1.83h-1.83zM410.86 225.82h1.83v1.83h-1.83zM422.27 225.82h1.83v1.83h-1.83zM409.44 222.96h1.83v1.83h-1.83zM423.69 222.96h1.83v1.83h-1.83zM409.44 215.84h1.83v1.83h-1.83zM423.69 215.84h1.83v1.83h-1.83zM415.14 211.56h4.68v1.83h-4.68z"/>
<path fill="#45ff00" d="M413.71 227.24h1.83v1.83h-1.83zM419.42 227.24h1.83v1.83h-1.83zM409.44 221.54h1.83v1.83h-1.83zM409.44 217.26h1.83v1.83h-1.83zM423.69 217.26h1.83v1.83h-1.83zM410.86 214.41h1.83v1.83h-1.83zM422.27 214.41h1.83v1.83h-1.83zM412.29 212.98h1.83v1.83h-1.83zM420.84 212.98h1.83v1.83h-1.83z"/>
<path fill="#6cff00" d="M415.14 227.24h1.83v1.83h-1.83zM412.29 225.82h1.83v1.83h-1.83zM420.84 225.82h1.83v1.83h-1.83zM410.86 224.39h1.83v1.83h-1.83zM422.27 224.39h1.83v1.83h-1.83zM423.69 221.54h1.83v1.83h-1.83zM409.44 220.11h1.83v1.83h-1.83zM423.69 220.11h1.83v1.83h-1.83zM409.44 218.69h1.83v1.83h-1.83zM423.69 218.69h1.83v1.83h-1.83zM413.71 212.98h1.83v1.83h-1.83zM419.42 212.98h1.83v1.83h-1.83z"/>
<path fill="#90ff00" d="M416.57 227.24h3.25v1.83h-3.25zM410.86 215.84h1.83v1.83h-1.83zM422.27 215.84h1.83v1.83h-1.83zM412.29 214.41h1.83v1.83h-1.83zM420.84 214.41h1.83v1.83h-1.83zM415.14 212.98h1.83v1.83h-1.83zM417.99 212.98h1.83v1.83h-1.83z"/>
<path fill="#b2ff00" d="M413.71 225.82h1.83v1.83h-1.83zM419.42 225.82h1.83v1.83h-1.83zM412.29 224.39h1.83v1.83h-1.83zM420.84 224.39h1.83v1.83h-1.83zM410.86 222.96h1.83v1.83h-1.83zM422.27 222.96h1.83v1.83h-1.83zM416.57 212.98h1.83v1.83h-1.83z"/>
<path fill="#d4ff00" d="M415.14 225.82h1.83v1.83h-1.83zM417.99 225.82h1.83v1.83h-1.83zM410.86 221.54h1.83v1.83h-1.83zM422.27 221.54h1.83v1.83h-1.83zM410.86 217.26h1.83v1.83h-1.83zM422.27 217.26h1.83v1.83h-1.83zM413.71 214.41h1.83v1.83h-1.83zM419.42 214.41h1.83v1.83h-1.83z"/>
<path fill="#f7ff00" d="M416.57 225.82h1.83v1.83h-1.83zM412.29 222.96h1.83v1.83h-1.83zM410.86 220.11h1.83v1.83h-1.83zM422.27 220.11h1.83v1.83h-1.83zM410.86 218.69h1.83v1.83h-1.83zM422.27 218.69h1.83v1.83h-1.83zM412.29 215.84h1.83v1.83h-1.83zM420.84 215.84h1.83v1.83h-1.83z"/>
<path fill="#fff300" d="M413.71 224.39h1.83v1.83h-1.83zM419.42 224.39h1.83v1.83h-1.83zM420.84 222.96h1.83v1.83h-1.83zM415.14 214.41h4.68v1.83h-4.68z"/>
<path fill="#ffdf00" d="M415.14 224.39h1.83v1.83h-1.83zM417.99 224.39h1.83v1.83h-1.83zM412.29 221.54h1.83v1.83h-1.83zM420.84 221.54h1.83v1.83h-1.83zM412.29 217.26h1.83v1.83h-1.83zM420.84 217.26h1.83v1.83h-1.83zM413.71 215.84h1.83v1.83h-1.83zM419.42 215.84h1.83v1.83h-1.83z"/>
<path fill="#ffc100" d="M416.57 224.39h1.83v1.83h-1.83zM413.71 222.96h1.83v1.83h-1.83zM419.42 222.96h1.83v1.83h-1.83zM412.29 220.11h1.83v1.83h-1.83zM420.84 220.11h1.83v1.83h-1.83zM412.29 218.69h1.83v1.83h-1.83zM420.84 218.69h1.83v1.83h-1.83z"/>
<path fill="#ff9b00" d="M415.14 215.84h1.83v1.83h-1.83zM417.99 215.84h1.83v1.83h-1.83z"/>
<path fill="#ff7400" d="M415.14 222.96h1.83v1.83h-1.83zM417.99 222.96h1.83v1.83h-1.83zM413.71 221.54h1.83v1.83h-1.83zM419.42 221.54h1.83v1.83h-1.83zM413.71 217.26h1.83v1.83h-1.83zM419.42 217.26h1.83v1.83h-1.83zM416.57 215.84h1.83v1.83h-1.83z"/>
<path fill="#ff5400" d="M416.57 222.96h1.83v1.83h-1.83z"/>
<path fill="#ff3600" d="M413.71 220.11h1.83v1.83h-1.83zM419.42 220.11h1.83v1.83h-1.83zM413.71 218.69h1.83v1.83h-1.83zM419.42 218.69h1.83v1.83h-1.83zM415.14 217.26h1.83v1.83h-1.83zM417.99 217.26h1.83v1.83h-1.83z"/>
<path fill="#ff1800" d="M415.14 221.54h1.83v1.83h-1.83zM417.99 221.54h1.83v1.83h-1.83zM416.57 217.26h1.83v1.83h-1.83z"/>
<path fill="#ff0f00" d="M416.57 221.54h1.83v1.83h-1.83z"/>
<path fill="#ff0c00" d="M415.14 220.11h1.83v1.83h-1.83zM417.99 220.11h1.83v1.83h-1.83zM415.14 218.69h1.83v1.83h-1.83zM417.99 218.69h1.83v1.83h-1.83z"/>
<path fill="#ff0600" d="M416.57 220.11h1.83v1.83h-1.83zM416.57 218.69h1.83v1.83h-1.83z"/>
<path fill="#2a2ac4" d="M391.7 99.6h1.7v1.7h-1.7zM395.9 98.3h1.7v1.7h-1.7zM394.5 106.8h1.7v1.7h-1.7zM398.9 106.8h1.7v1.7h-1.7zM394.5 114.4h1.7v1.7h-1.7zM394.5 115.3h1.7v1.7h-1.7zM415.9 102.4h1.7v1.7h-1.7zM424.5 99.7h1.7v1.7h-1.7zM428.8 102.4h1.7v1.7h-1.7zM433.0 105.3h1.7v1.7h-1.7zM421.6 106.8h1.7v1.7h-1.7zM417.3 112.4h1.7v1.7h-1.7zM430.2 112.4h1.7v1.7h-1.7zM434.4 114.1h1.7v1.7h-1.7zM410.1 115.6h1.7v1.7h-1.7zM425.9 118.5h1.7v1.7h-1.7zM420.1 120.0h1.7v1.7h-1.7zM423.0 120.0h1.7v1.7h-1.7zM424.5 122.7h1.7v1.7h-1.7zM423.0 124.2h1.7v1.7h-1.7zM424.5 125.6h1.7v1.7h-1.7zM428.8 124.2h1.7v1.7h-1.7zM413.0 125.5h1.7v1.7h-1.7zM415.9 131.3h1.7v1.7h-1.7zM425.9 132.7h1.7v1.7h-1.7zM427.3 132.7h1.7v1.7h-1.7zM428.8 133.5h1.7v1.7h-1.7zM425.9 135.6h1.7v1.7h-1.7zM423.0 137.4h1.7v1.7h-1.7zM423.0 138.4h1.7v1.7h-1.7zM410.1 138.4h1.7v1.7h-1.7zM424.5 140.6h1.7v1.7h-1.7zM424.5 141.3h1.7v1.7h-1.7zM433.0 142.8h1.7v1.7h-1.7zM420.1 144.2h1.7v1.7h-1.7zM425.9 144.2h1.7v1.7h-1.7zM414.5 145.6h1.7v1.7h-1.7zM420.1 147.0h1.7v1.7h-1.7zM423.0 148.4h1.7v1.7h-1.7zM421.6 151.4h1.7v1.7h-1.7zM424.5 151.4h1.7v1.7h-1.7zM424.5 154.2h1.7v1.7h-1.7zM414.5 155.6h1.7v1.7h-1.7zM418.7 155.6h1.7v1.7h-1.7zM421.6 155.6h1.7v1.7h-1.7zM430.2 155.6h1.7v1.7h-1.7zM418.7 158.4h1.7v1.7h-1.7zM427.3 158.4h1.7v1.7h-1.7zM413.1 159.9h1.7v1.7h-1.7zM420.1 162.7h1.7v1.7h-1.7zM398.8 165.6h1.7v1.7h-1.7zM414.5 167.0h1.7v1.7h-1.7zM428.8 167.0h1.7v1.7h-1.7zM424.5 168.4h1.7v1.7h-1.7zM425.9 168.4h1.7v1.7h-1.7zM404.5 168.4h1.7v1.7h-1.7zM415.9 169.9h1.7v1.7h-1.7zM410.1 172.7h1.7v1.7h-1.7zM414.5 172.7h1.7v1.7h-1.7zM418.7 174.1h1.7v1.7h-1.7zM424.5 172.7h1.7v1.7h-1.7zM425.9 175.5h1.7v1.7h-1.7zM423.0 176.9h1.7v1.7h-1.7zM428.8 178.4h1.7v1.7h-1.7zM417.3 179.9h1.7v1.7h-1.7zM424.5 179.9h1.7v1.7h-1.7zM413.1 182.7h1.7v1.7h-1.7zM404.5 184.1h1.7v1.7h-1.7zM414.5 185.5h1.7v1.7h-1.7zM418.7 186.9h1.7v1.7h-1.7zM424.5 186.9h1.7v1.7h-1.7z"/>
<path fill="#dcdcf0" d="M422.9 89.6h1.7v1.7h-1.7zM427.3 92.4h1.7v1.7h-1.7zM434.4 94.0h1.7v1.7h-1.7zM424.5 98.3h1.7v1.7h-1.7zM407.6 290.1h1.7v1.7h-1.7zM409.6 291.6h1.7v1.7h-1.7zM414.1 289.6h1.7v1.7h-1.7zM420.1 290.6h1.7v1.7h-1.7zM429.1 297.1h1.7v1.7h-1.7zM403.1 298.6h1.7v1.7h-1.7zM411.1 295.1h1.7v1.7h-1.7zM408.1 302.1h1.7v1.7h-1.7zM416.6 299.1h1.7v1.7h-1.7z"/>
<path fill="#3030f0" d="M393.2 378h1.4v1.6h-1.4zM396.6 378h1.4v1.6h-1.4zM404.8 377.6h11.5v2h-11.5zM417.6 377.8h8.4v1.8h-8.4zM429.2 378h1.4v1.6h-1.4z"/>
</g>
<line x1="372.60" y1="14.60" x2="372.60" y2="380.20" stroke="#000" stroke-width="2.3" />
<line x1="114.50" y1="190.90" x2="479.50" y2="190.90" stroke="#000" stroke-width="2.0" />
<line x1="104.20" y1="378.80" x2="114.50" y2="378.80" stroke="#000" stroke-width="2.7" />
<line x1="110.00" y1="363.63" x2="114.50" y2="363.63" stroke="#000" stroke-width="1.6" />
<line x1="110.00" y1="354.75" x2="114.50" y2="354.75" stroke="#000" stroke-width="1.6" />
<line x1="110.00" y1="348.46" x2="114.50" y2="348.46" stroke="#000" stroke-width="1.6" />
<line x1="107.20" y1="344.17" x2="114.50" y2="344.17" stroke="#000" stroke-width="2.3" />
<line x1="110.00" y1="339.58" x2="114.50" y2="339.58" stroke="#000" stroke-width="1.6" />
<line x1="110.00" y1="336.21" x2="114.50" y2="336.21" stroke="#000" stroke-width="1.6" />
<line x1="110.00" y1="333.28" x2="114.50" y2="333.28" stroke="#000" stroke-width="1.6" />
<line x1="110.00" y1="330.71" x2="114.50" y2="330.71" stroke="#000" stroke-width="1.6" />
<line x1="104.20" y1="328.40" x2="114.50" y2="328.40" stroke="#000" stroke-width="2.7" />
<line x1="110.00" y1="313.11" x2="114.50" y2="313.11" stroke="#000" stroke-width="1.6" />
<line x1="110.00" y1="304.16" x2="114.50" y2="304.16" stroke="#000" stroke-width="1.6" />
<line x1="110.00" y1="297.82" x2="114.50" y2="297.82" stroke="#000" stroke-width="1.6" />
<line x1="107.20" y1="293.49" x2="114.50" y2="293.49" stroke="#000" stroke-width="2.3" />
<line x1="110.00" y1="288.87" x2="114.50" y2="288.87" stroke="#000" stroke-width="1.6" />
<line x1="110.00" y1="285.47" x2="114.50" y2="285.47" stroke="#000" stroke-width="1.6" />
<line x1="110.00" y1="282.52" x2="114.50" y2="282.52" stroke="#000" stroke-width="1.6" />
<line x1="110.00" y1="279.92" x2="114.50" y2="279.92" stroke="#000" stroke-width="1.6" />
<line x1="104.20" y1="277.60" x2="114.50" y2="277.60" stroke="#000" stroke-width="2.7" />
<line x1="110.00" y1="262.58" x2="114.50" y2="262.58" stroke="#000" stroke-width="1.6" />
<line x1="110.00" y1="253.79" x2="114.50" y2="253.79" stroke="#000" stroke-width="1.6" />
<line x1="110.00" y1="247.56" x2="114.50" y2="247.56" stroke="#000" stroke-width="1.6" />
<line x1="107.20" y1="243.32" x2="114.50" y2="243.32" stroke="#000" stroke-width="2.3" />
<line x1="110.00" y1="238.77" x2="114.50" y2="238.77" stroke="#000" stroke-width="1.6" />
<line x1="110.00" y1="235.43" x2="114.50" y2="235.43" stroke="#000" stroke-width="1.6" />
<line x1="110.00" y1="232.54" x2="114.50" y2="232.54" stroke="#000" stroke-width="1.6" />
<line x1="110.00" y1="229.98" x2="114.50" y2="229.98" stroke="#000" stroke-width="1.6" />
<line x1="104.20" y1="227.70" x2="114.50" y2="227.70" stroke="#000" stroke-width="2.7" />
<line x1="110.00" y1="212.68" x2="114.50" y2="212.68" stroke="#000" stroke-width="1.6" />
<line x1="110.00" y1="203.89" x2="114.50" y2="203.89" stroke="#000" stroke-width="1.6" />
<line x1="110.00" y1="197.66" x2="114.50" y2="197.66" stroke="#000" stroke-width="1.6" />
<line x1="107.20" y1="193.42" x2="114.50" y2="193.42" stroke="#000" stroke-width="2.3" />
<line x1="110.00" y1="188.87" x2="114.50" y2="188.87" stroke="#000" stroke-width="1.6" />
<line x1="110.00" y1="185.53" x2="114.50" y2="185.53" stroke="#000" stroke-width="1.6" />
<line x1="110.00" y1="182.64" x2="114.50" y2="182.64" stroke="#000" stroke-width="1.6" />
<line x1="110.00" y1="180.08" x2="114.50" y2="180.08" stroke="#000" stroke-width="1.6" />
<line x1="104.20" y1="177.80" x2="114.50" y2="177.80" stroke="#000" stroke-width="2.7" />
<line x1="110.00" y1="162.75" x2="114.50" y2="162.75" stroke="#000" stroke-width="1.6" />
<line x1="110.00" y1="153.94" x2="114.50" y2="153.94" stroke="#000" stroke-width="1.6" />
<line x1="110.00" y1="147.70" x2="114.50" y2="147.70" stroke="#000" stroke-width="1.6" />
<line x1="107.20" y1="143.45" x2="114.50" y2="143.45" stroke="#000" stroke-width="2.3" />
<line x1="110.00" y1="138.89" x2="114.50" y2="138.89" stroke="#000" stroke-width="1.6" />
<line x1="110.00" y1="135.55" x2="114.50" y2="135.55" stroke="#000" stroke-width="1.6" />
<line x1="110.00" y1="132.65" x2="114.50" y2="132.65" stroke="#000" stroke-width="1.6" />
<line x1="110.00" y1="130.09" x2="114.50" y2="130.09" stroke="#000" stroke-width="1.6" />
<line x1="104.20" y1="127.80" x2="114.50" y2="127.80" stroke="#000" stroke-width="2.7" />
<line x1="110.00" y1="112.45" x2="114.50" y2="112.45" stroke="#000" stroke-width="1.6" />
<line x1="110.00" y1="103.47" x2="114.50" y2="103.47" stroke="#000" stroke-width="1.6" />
<line x1="110.00" y1="97.09" x2="114.50" y2="97.09" stroke="#000" stroke-width="1.6" />
<line x1="107.20" y1="92.75" x2="114.50" y2="92.75" stroke="#000" stroke-width="2.3" />
<line x1="110.00" y1="88.11" x2="114.50" y2="88.11" stroke="#000" stroke-width="1.6" />
<line x1="110.00" y1="84.70" x2="114.50" y2="84.70" stroke="#000" stroke-width="1.6" />
<line x1="110.00" y1="81.74" x2="114.50" y2="81.74" stroke="#000" stroke-width="1.6" />
<line x1="110.00" y1="79.13" x2="114.50" y2="79.13" stroke="#000" stroke-width="1.6" />
<line x1="104.20" y1="76.80" x2="114.50" y2="76.80" stroke="#000" stroke-width="2.7" />
<line x1="110.00" y1="61.72" x2="114.50" y2="61.72" stroke="#000" stroke-width="1.6" />
<line x1="110.00" y1="52.90" x2="114.50" y2="52.90" stroke="#000" stroke-width="1.6" />
<line x1="110.00" y1="46.64" x2="114.50" y2="46.64" stroke="#000" stroke-width="1.6" />
<line x1="107.20" y1="42.38" x2="114.50" y2="42.38" stroke="#000" stroke-width="2.3" />
<line x1="110.00" y1="37.81" x2="114.50" y2="37.81" stroke="#000" stroke-width="1.6" />
<line x1="110.00" y1="34.46" x2="114.50" y2="34.46" stroke="#000" stroke-width="1.6" />
<line x1="110.00" y1="31.56" x2="114.50" y2="31.56" stroke="#000" stroke-width="1.6" />
<line x1="110.00" y1="28.99" x2="114.50" y2="28.99" stroke="#000" stroke-width="1.6" />
<line x1="104.20" y1="26.70" x2="114.50" y2="26.70" stroke="#000" stroke-width="2.7" />
<line x1="116.00" y1="380.20" x2="116.00" y2="390.00" stroke="#000" stroke-width="2.9" />
<line x1="130.63" y1="380.20" x2="130.63" y2="384.60" stroke="#000" stroke-width="1.6" />
<line x1="139.19" y1="380.20" x2="139.19" y2="384.60" stroke="#000" stroke-width="1.6" />
<line x1="145.26" y1="380.20" x2="145.26" y2="384.60" stroke="#000" stroke-width="1.6" />
<line x1="149.97" y1="380.20" x2="149.97" y2="387.20" stroke="#000" stroke-width="2.2" />
<line x1="153.82" y1="380.20" x2="153.82" y2="384.60" stroke="#000" stroke-width="1.6" />
<line x1="157.07" y1="380.20" x2="157.07" y2="384.60" stroke="#000" stroke-width="1.6" />
<line x1="159.89" y1="380.20" x2="159.89" y2="384.60" stroke="#000" stroke-width="1.6" />
<line x1="162.38" y1="380.20" x2="162.38" y2="384.60" stroke="#000" stroke-width="1.6" />
<line x1="164.60" y1="380.20" x2="164.60" y2="390.00" stroke="#000" stroke-width="2.9" />
<line x1="179.98" y1="380.20" x2="179.98" y2="384.60" stroke="#000" stroke-width="1.6" />
<line x1="188.98" y1="380.20" x2="188.98" y2="384.60" stroke="#000" stroke-width="1.6" />
<line x1="195.37" y1="380.20" x2="195.37" y2="384.60" stroke="#000" stroke-width="1.6" />
<line x1="200.32" y1="380.20" x2="200.32" y2="387.20" stroke="#000" stroke-width="2.2" />
<line x1="204.36" y1="380.20" x2="204.36" y2="384.60" stroke="#000" stroke-width="1.6" />
<line x1="207.78" y1="380.20" x2="207.78" y2="384.60" stroke="#000" stroke-width="1.6" />
<line x1="210.75" y1="380.20" x2="210.75" y2="384.60" stroke="#000" stroke-width="1.6" />
<line x1="213.36" y1="380.20" x2="213.36" y2="384.60" stroke="#000" stroke-width="1.6" />
<line x1="215.70" y1="380.20" x2="215.70" y2="390.00" stroke="#000" stroke-width="2.9" />
<line x1="230.75" y1="380.20" x2="230.75" y2="384.60" stroke="#000" stroke-width="1.6" />
<line x1="239.56" y1="380.20" x2="239.56" y2="384.60" stroke="#000" stroke-width="1.6" />
<line x1="245.80" y1="380.20" x2="245.80" y2="384.60" stroke="#000" stroke-width="1.6" />
<line x1="250.65" y1="380.20" x2="250.65" y2="387.20" stroke="#000" stroke-width="2.2" />
<line x1="254.61" y1="380.20" x2="254.61" y2="384.60" stroke="#000" stroke-width="1.6" />
<line x1="257.95" y1="380.20" x2="257.95" y2="384.60" stroke="#000" stroke-width="1.6" />
<line x1="260.85" y1="380.20" x2="260.85" y2="384.60" stroke="#000" stroke-width="1.6" />
<line x1="263.41" y1="380.20" x2="263.41" y2="384.60" stroke="#000" stroke-width="1.6" />
<line x1="265.70" y1="380.20" x2="265.70" y2="390.00" stroke="#000" stroke-width="2.9" />
<line x1="280.69" y1="380.20" x2="280.69" y2="384.60" stroke="#000" stroke-width="1.6" />
<line x1="289.46" y1="380.20" x2="289.46" y2="384.60" stroke="#000" stroke-width="1.6" />
<line x1="295.68" y1="380.20" x2="295.68" y2="384.60" stroke="#000" stroke-width="1.6" />
<line x1="300.51" y1="380.20" x2="300.51" y2="387.20" stroke="#000" stroke-width="2.2" />
<line x1="304.45" y1="380.20" x2="304.45" y2="384.60" stroke="#000" stroke-width="1.6" />
<line x1="307.79" y1="380.20" x2="307.79" y2="384.60" stroke="#000" stroke-width="1.6" />
<line x1="310.67" y1="380.20" x2="310.67" y2="384.60" stroke="#000" stroke-width="1.6" />
<line x1="313.22" y1="380.20" x2="313.22" y2="384.60" stroke="#000" stroke-width="1.6" />
<line x1="315.50" y1="380.20" x2="315.50" y2="390.00" stroke="#000" stroke-width="2.9" />
<line x1="330.55" y1="380.20" x2="330.55" y2="384.60" stroke="#000" stroke-width="1.6" />
<line x1="339.36" y1="380.20" x2="339.36" y2="384.60" stroke="#000" stroke-width="1.6" />
<line x1="345.60" y1="380.20" x2="345.60" y2="384.60" stroke="#000" stroke-width="1.6" />
<line x1="350.45" y1="380.20" x2="350.45" y2="387.20" stroke="#000" stroke-width="2.2" />
<line x1="354.41" y1="380.20" x2="354.41" y2="384.60" stroke="#000" stroke-width="1.6" />
<line x1="357.75" y1="380.20" x2="357.75" y2="384.60" stroke="#000" stroke-width="1.6" />
<line x1="360.65" y1="380.20" x2="360.65" y2="384.60" stroke="#000" stroke-width="1.6" />
<line x1="363.21" y1="380.20" x2="363.21" y2="384.60" stroke="#000" stroke-width="1.6" />
<line x1="365.50" y1="380.20" x2="365.50" y2="390.00" stroke="#000" stroke-width="2.9" />
<line x1="380.82" y1="380.20" x2="380.82" y2="384.60" stroke="#000" stroke-width="1.6" />
<line x1="389.79" y1="380.20" x2="389.79" y2="384.60" stroke="#000" stroke-width="1.6" />
<line x1="396.14" y1="380.20" x2="396.14" y2="384.60" stroke="#000" stroke-width="1.6" />
<line x1="401.08" y1="380.20" x2="401.08" y2="387.20" stroke="#000" stroke-width="2.2" />
<line x1="405.11" y1="380.20" x2="405.11" y2="384.60" stroke="#000" stroke-width="1.6" />
<line x1="408.52" y1="380.20" x2="408.52" y2="384.60" stroke="#000" stroke-width="1.6" />
<line x1="411.47" y1="380.20" x2="411.47" y2="384.60" stroke="#000" stroke-width="1.6" />
<line x1="414.07" y1="380.20" x2="414.07" y2="384.60" stroke="#000" stroke-width="1.6" />
<line x1="416.40" y1="380.20" x2="416.40" y2="390.00" stroke="#000" stroke-width="2.9" />
<line x1="431.48" y1="380.20" x2="431.48" y2="384.60" stroke="#000" stroke-width="1.6" />
<line x1="440.30" y1="380.20" x2="440.30" y2="384.60" stroke="#000" stroke-width="1.6" />
<line x1="446.56" y1="380.20" x2="446.56" y2="384.60" stroke="#000" stroke-width="1.6" />
<line x1="451.42" y1="380.20" x2="451.42" y2="387.20" stroke="#000" stroke-width="2.2" />
<line x1="455.39" y1="380.20" x2="455.39" y2="384.60" stroke="#000" stroke-width="1.6" />
<line x1="458.74" y1="380.20" x2="458.74" y2="384.60" stroke="#000" stroke-width="1.6" />
<line x1="461.64" y1="380.20" x2="461.64" y2="384.60" stroke="#000" stroke-width="1.6" />
<line x1="464.21" y1="380.20" x2="464.21" y2="384.60" stroke="#000" stroke-width="1.6" />
<line x1="466.50" y1="380.20" x2="466.50" y2="390.00" stroke="#000" stroke-width="2.9" />
<text x="69.10" y="377.50" font-size="20" text-anchor="start" font-weight="normal" textLength="18.7" lengthAdjust="spacingAndGlyphs">10</text>
<text x="88.30" y="364.50" font-size="19.5" text-anchor="start" font-weight="normal" >0</text>
<text x="69.10" y="340.90" font-size="20" text-anchor="start" font-weight="normal" textLength="18.7" lengthAdjust="spacingAndGlyphs">10</text>
<text x="88.30" y="327.90" font-size="19.5" text-anchor="start" font-weight="normal" >1</text>
<text x="69.10" y="290.40" font-size="20" text-anchor="start" font-weight="normal" textLength="18.7" lengthAdjust="spacingAndGlyphs">10</text>
<text x="88.30" y="277.40" font-size="19.5" text-anchor="start" font-weight="normal" >2</text>
<text x="69.10" y="240.90" font-size="20" text-anchor="start" font-weight="normal" textLength="18.7" lengthAdjust="spacingAndGlyphs">10</text>
<text x="88.30" y="227.90" font-size="19.5" text-anchor="start" font-weight="normal" >3</text>
<text x="69.10" y="190.50" font-size="20" text-anchor="start" font-weight="normal" textLength="18.7" lengthAdjust="spacingAndGlyphs">10</text>
<text x="88.30" y="177.50" font-size="19.5" text-anchor="start" font-weight="normal" >4</text>
<text x="69.10" y="140.20" font-size="20" text-anchor="start" font-weight="normal" textLength="18.7" lengthAdjust="spacingAndGlyphs">10</text>
<text x="88.30" y="127.20" font-size="19.5" text-anchor="start" font-weight="normal" >5</text>
<text x="69.10" y="89.00" font-size="20" text-anchor="start" font-weight="normal" textLength="18.7" lengthAdjust="spacingAndGlyphs">10</text>
<text x="88.30" y="76.00" font-size="19.5" text-anchor="start" font-weight="normal" >6</text>
<text x="69.10" y="46.10" font-size="20" text-anchor="start" font-weight="normal" textLength="18.7" lengthAdjust="spacingAndGlyphs">10</text>
<text x="88.30" y="33.10" font-size="19.5" text-anchor="start" font-weight="normal" >7</text>
<text x="122.10" y="418.00" font-size="20" text-anchor="start" font-weight="normal" textLength="18.7" lengthAdjust="spacingAndGlyphs">10</text>
<text x="140.80" y="405.00" font-size="20" text-anchor="start" font-weight="normal" >0</text>
<text x="213.60" y="418.00" font-size="20" text-anchor="start" font-weight="normal" textLength="18.7" lengthAdjust="spacingAndGlyphs">10</text>
<text x="232.40" y="405.00" font-size="20" text-anchor="start" font-weight="normal" >2</text>
<text x="313.10" y="418.00" font-size="20" text-anchor="start" font-weight="normal" textLength="18.7" lengthAdjust="spacingAndGlyphs">10</text>
<text x="331.80" y="405.00" font-size="20" text-anchor="start" font-weight="normal" >4</text>
<text x="414.10" y="418.00" font-size="20" text-anchor="start" font-weight="normal" textLength="18.7" lengthAdjust="spacingAndGlyphs">10</text>
<text x="433.30" y="405.00" font-size="20" text-anchor="start" font-weight="normal" >6</text>
<text x="121.00" y="53.00" font-size="26" text-anchor="start" font-weight="normal" >Q1</text>
<text x="121.50" y="83.80" font-size="26" text-anchor="start" font-weight="normal" >0<tspan dx="2">%</tspan></text>
<text x="417.50" y="53.00" font-size="26" text-anchor="start" font-weight="normal" >Q2</text>
<text x="403.50" y="83.80" font-size="26" text-anchor="start" font-weight="normal" >0.11<tspan dx="3.3">%</tspan></text>
<text x="121.00" y="325.80" font-size="26" text-anchor="start" font-weight="normal" >Q4</text>
<text x="121.50" y="356.50" font-size="26" text-anchor="start" font-weight="normal" >0<tspan dx="2">%</tspan></text>
<text x="417.50" y="325.80" font-size="26" text-anchor="start" font-weight="normal" >Q3</text>
<text x="403.50" y="356.50" font-size="26" text-anchor="start" font-weight="normal" >99.9<tspan dx="3.3">%</tspan></text>
<text transform="translate(32.30,192.70) rotate(-90)" font-size="25.85" text-anchor="middle" >Annexin V Alexa Fluor 647</text>
<text transform="translate(295.0,456.6) scale(0.97,1)" font-size="26.6" text-anchor="middle">FSC</text>
<text x="0.40" y="447.20" font-size="25.3" text-anchor="start" font-weight="bold" >a)</text>
</g>
<g id="panel-b">
<rect x="693.0" y="9.6" width="513.30" height="358.80" fill="#fff" stroke="#2e2e2e" stroke-width="1.2"/>
<line x1="687.20" y1="368.40" x2="693.00" y2="368.40" stroke="#2e2e2e" stroke-width="1.2" />
<text x="673.70" y="377.10" font-size="26.5" text-anchor="end" font-weight="normal" textLength="31.3" lengthAdjust="spacingAndGlyphs">0.0</text>
<line x1="687.20" y1="317.20" x2="693.00" y2="317.20" stroke="#2e2e2e" stroke-width="1.2" />
<text x="673.70" y="325.90" font-size="26.5" text-anchor="end" font-weight="normal" textLength="31.3" lengthAdjust="spacingAndGlyphs">0.5</text>
<line x1="687.20" y1="266.00" x2="693.00" y2="266.00" stroke="#2e2e2e" stroke-width="1.2" />
<text x="673.70" y="274.70" font-size="26.5" text-anchor="end" font-weight="normal" textLength="31.3" lengthAdjust="spacingAndGlyphs">1.0</text>
<line x1="687.20" y1="214.80" x2="693.00" y2="214.80" stroke="#2e2e2e" stroke-width="1.2" />
<text x="673.70" y="223.50" font-size="26.5" text-anchor="end" font-weight="normal" textLength="31.3" lengthAdjust="spacingAndGlyphs">1.5</text>
<line x1="687.20" y1="163.60" x2="693.00" y2="163.60" stroke="#2e2e2e" stroke-width="1.2" />
<text x="673.70" y="172.30" font-size="26.5" text-anchor="end" font-weight="normal" textLength="31.3" lengthAdjust="spacingAndGlyphs">2.0</text>
<line x1="687.20" y1="112.40" x2="693.00" y2="112.40" stroke="#2e2e2e" stroke-width="1.2" />
<text x="673.70" y="121.10" font-size="26.5" text-anchor="end" font-weight="normal" textLength="31.3" lengthAdjust="spacingAndGlyphs">2.5</text>
<line x1="687.20" y1="61.20" x2="693.00" y2="61.20" stroke="#2e2e2e" stroke-width="1.2" />
<text x="673.70" y="69.90" font-size="26.5" text-anchor="end" font-weight="normal" textLength="31.3" lengthAdjust="spacingAndGlyphs">3.0</text>
<line x1="687.20" y1="10.00" x2="693.00" y2="10.00" stroke="#2e2e2e" stroke-width="1.2" />
<text x="673.70" y="18.70" font-size="26.5" text-anchor="end" font-weight="normal" textLength="31.3" lengthAdjust="spacingAndGlyphs">3.5</text>
<rect x="756.85" y="193.30" width="77.50" height="175.10" fill="#c3c3c3" stroke="#161616" stroke-width="1.6" stroke-linejoin="round"/>
<line x1="795.45" y1="133.39" x2="795.45" y2="253.20" stroke="#000" stroke-width="2.2" />
<line x1="790.20" y1="133.39" x2="801.00" y2="133.39" stroke="#000" stroke-width="2.2" stroke-linecap="round"/>
<line x1="790.20" y1="253.20" x2="801.00" y2="253.20" stroke="#000" stroke-width="2.2" stroke-linecap="round"/>
<line x1="795.60" y1="368.40" x2="795.60" y2="373.90" stroke="#2e2e2e" stroke-width="1.2" />
<rect x="859.65" y="232.72" width="77.50" height="135.68" fill="#c3c3c3" stroke="#161616" stroke-width="1.6" stroke-linejoin="round"/>
<line x1="898.25" y1="190.22" x2="898.25" y2="275.22" stroke="#000" stroke-width="2.2" />
<line x1="893.00" y1="190.22" x2="903.80" y2="190.22" stroke="#000" stroke-width="2.2" stroke-linecap="round"/>
<line x1="893.00" y1="275.22" x2="903.80" y2="275.22" stroke="#000" stroke-width="2.2" stroke-linecap="round"/>
<line x1="898.40" y1="368.40" x2="898.40" y2="373.90" stroke="#2e2e2e" stroke-width="1.2" />
<rect x="962.15" y="139.02" width="77.50" height="229.38" fill="#c3c3c3" stroke="#161616" stroke-width="1.6" stroke-linejoin="round"/>
<line x1="1000.75" y1="54.03" x2="1000.75" y2="224.02" stroke="#000" stroke-width="2.2" />
<line x1="995.50" y1="54.03" x2="1006.30" y2="54.03" stroke="#000" stroke-width="2.2" stroke-linecap="round"/>
<line x1="995.50" y1="224.02" x2="1006.30" y2="224.02" stroke="#000" stroke-width="2.2" stroke-linecap="round"/>
<line x1="1000.90" y1="368.40" x2="1000.90" y2="373.90" stroke="#2e2e2e" stroke-width="1.2" />
<rect x="1064.75" y="253.71" width="77.50" height="114.69" fill="#c3c3c3" stroke="#161616" stroke-width="1.6" stroke-linejoin="round"/>
<line x1="1103.35" y1="235.79" x2="1103.35" y2="271.12" stroke="#000" stroke-width="2.2" />
<line x1="1098.10" y1="235.79" x2="1108.90" y2="235.79" stroke="#000" stroke-width="2.2" stroke-linecap="round"/>
<line x1="1098.10" y1="271.12" x2="1108.90" y2="271.12" stroke="#000" stroke-width="2.2" stroke-linecap="round"/>
<line x1="1103.50" y1="368.40" x2="1103.50" y2="373.90" stroke="#2e2e2e" stroke-width="1.2" />
<text transform="translate(795.30,409.3) scale(0.975,1)" font-size="26" text-anchor="middle">Control</text>
<text transform="translate(898.10,409.3) scale(0.975,1)" font-size="26" text-anchor="middle">5</text>
<text transform="translate(1000.60,409.3) scale(0.975,1)" font-size="26" text-anchor="middle">10</text>
<text transform="translate(1103.20,409.3) scale(0.975,1)" font-size="26" text-anchor="middle">15</text>
<text x="949.60" y="450.90" font-size="25.8" text-anchor="middle" font-weight="normal" >Exposure Time (msec)</text>
<text transform="translate(595.50,192.60) rotate(-90)" font-size="25.8" text-anchor="middle" >Percent RBC with Positive</text>
<text transform="translate(624.00,189.10) rotate(-90)" font-size="25.8" text-anchor="middle" >Annexin V Fluorescence</text>
<text x="552.30" y="447.20" font-size="25.3" text-anchor="start" font-weight="bold" >b)</text>
</g>
<g id="panel-c">
<rect x="1385.7" y="9.6" width="513.40" height="358.80" fill="#fff" stroke="#2e2e2e" stroke-width="1.2"/>
<line x1="1379.90" y1="368.40" x2="1385.70" y2="368.40" stroke="#2e2e2e" stroke-width="1.2" />
<text x="1367.50" y="377.10" font-size="26.5" text-anchor="end" font-weight="normal" textLength="31.3" lengthAdjust="spacingAndGlyphs">0.0</text>
<line x1="1379.90" y1="317.20" x2="1385.70" y2="317.20" stroke="#2e2e2e" stroke-width="1.2" />
<text x="1367.50" y="325.90" font-size="26.5" text-anchor="end" font-weight="normal" textLength="31.3" lengthAdjust="spacingAndGlyphs">0.5</text>
<line x1="1379.90" y1="266.00" x2="1385.70" y2="266.00" stroke="#2e2e2e" stroke-width="1.2" />
<text x="1367.50" y="274.70" font-size="26.5" text-anchor="end" font-weight="normal" textLength="31.3" lengthAdjust="spacingAndGlyphs">1.0</text>
<line x1="1379.90" y1="214.80" x2="1385.70" y2="214.80" stroke="#2e2e2e" stroke-width="1.2" />
<text x="1367.50" y="223.50" font-size="26.5" text-anchor="end" font-weight="normal" textLength="31.3" lengthAdjust="spacingAndGlyphs">1.5</text>
<line x1="1379.90" y1="163.60" x2="1385.70" y2="163.60" stroke="#2e2e2e" stroke-width="1.2" />
<text x="1367.50" y="172.30" font-size="26.5" text-anchor="end" font-weight="normal" textLength="31.3" lengthAdjust="spacingAndGlyphs">2.0</text>
<line x1="1379.90" y1="112.40" x2="1385.70" y2="112.40" stroke="#2e2e2e" stroke-width="1.2" />
<text x="1367.50" y="121.10" font-size="26.5" text-anchor="end" font-weight="normal" textLength="31.3" lengthAdjust="spacingAndGlyphs">2.5</text>
<line x1="1379.90" y1="61.20" x2="1385.70" y2="61.20" stroke="#2e2e2e" stroke-width="1.2" />
<text x="1367.50" y="69.90" font-size="26.5" text-anchor="end" font-weight="normal" textLength="31.3" lengthAdjust="spacingAndGlyphs">3.0</text>
<line x1="1379.90" y1="10.00" x2="1385.70" y2="10.00" stroke="#2e2e2e" stroke-width="1.2" />
<text x="1367.50" y="18.70" font-size="26.5" text-anchor="end" font-weight="normal" textLength="31.3" lengthAdjust="spacingAndGlyphs">3.5</text>
<rect x="1457.60" y="266.00" width="62.00" height="102.40" fill="#c3c3c3" stroke="#161616" stroke-width="1.0" stroke-linejoin="round"/>
<line x1="1488.45" y1="228.62" x2="1488.45" y2="282.90" stroke="#000" stroke-width="2.2" />
<line x1="1483.20" y1="228.62" x2="1494.00" y2="228.62" stroke="#000" stroke-width="2.2" stroke-linecap="round"/>
<line x1="1483.20" y1="282.90" x2="1494.00" y2="282.90" stroke="#000" stroke-width="2.2" stroke-linecap="round"/>
<line x1="1488.60" y1="368.40" x2="1488.60" y2="373.90" stroke="#2e2e2e" stroke-width="1.2" />
<rect x="1560.20" y="165.14" width="62.00" height="203.26" fill="#c3c3c3" stroke="#161616" stroke-width="1.0" stroke-linejoin="round"/>
<line x1="1591.05" y1="113.94" x2="1591.05" y2="187.66" stroke="#000" stroke-width="2.2" />
<line x1="1585.80" y1="113.94" x2="1596.60" y2="113.94" stroke="#000" stroke-width="2.2" stroke-linecap="round"/>
<line x1="1585.80" y1="187.66" x2="1596.60" y2="187.66" stroke="#000" stroke-width="2.2" stroke-linecap="round"/>
<line x1="1591.20" y1="368.40" x2="1591.20" y2="373.90" stroke="#2e2e2e" stroke-width="1.2" />
<text x="1591.50" y="108.10" font-size="24" text-anchor="middle" font-weight="normal" style="font-family:'Liberation Sans',sans-serif" stroke="#000" stroke-width="0.3">*</text>
<rect x="1662.70" y="89.87" width="62.00" height="278.53" fill="#c3c3c3" stroke="#161616" stroke-width="1.0" stroke-linejoin="round"/>
<line x1="1693.55" y1="56.59" x2="1693.55" y2="104.72" stroke="#000" stroke-width="2.2" />
<line x1="1688.30" y1="56.59" x2="1699.10" y2="56.59" stroke="#000" stroke-width="2.2" stroke-linecap="round"/>
<line x1="1688.30" y1="104.72" x2="1699.10" y2="104.72" stroke="#000" stroke-width="2.2" stroke-linecap="round"/>
<line x1="1693.70" y1="368.40" x2="1693.70" y2="373.90" stroke="#2e2e2e" stroke-width="1.2" />
<text x="1694.00" y="54.10" font-size="24" text-anchor="middle" font-weight="normal" style="font-family:'Liberation Sans',sans-serif" stroke="#000" stroke-width="0.3">*</text>
<rect x="1765.30" y="57.62" width="62.00" height="310.78" fill="#c3c3c3" stroke="#161616" stroke-width="1.0" stroke-linejoin="round"/>
<line x1="1796.15" y1="46.35" x2="1796.15" y2="63.25" stroke="#000" stroke-width="2.2" />
<line x1="1790.90" y1="46.35" x2="1801.70" y2="46.35" stroke="#000" stroke-width="2.2" stroke-linecap="round"/>
<line x1="1790.90" y1="63.25" x2="1801.70" y2="63.25" stroke="#000" stroke-width="2.2" stroke-linecap="round"/>
<line x1="1796.30" y1="368.40" x2="1796.30" y2="373.90" stroke="#2e2e2e" stroke-width="1.2" />
<text x="1795.70" y="41.50" font-size="24" text-anchor="middle" font-weight="normal" style="font-family:'Liberation Sans',sans-serif" stroke="#000" stroke-width="0.3">*</text>
<text transform="translate(1488.30,409.3) scale(0.975,1)" font-size="26" text-anchor="middle">Control</text>
<text transform="translate(1590.90,409.3) scale(0.975,1)" font-size="26" text-anchor="middle">5</text>
<text transform="translate(1693.40,409.3) scale(0.975,1)" font-size="26" text-anchor="middle">10</text>
<text transform="translate(1796.00,409.3) scale(0.975,1)" font-size="26" text-anchor="middle">15</text>
<text x="1660.00" y="453.20" font-size="25.8" text-anchor="middle" font-weight="normal" >Exposure Time (msec)</text>
<text transform="translate(1259.60,190.60) rotate(-90)" font-size="25.85" text-anchor="middle" >Fluorescence Intensity of</text>
<text transform="translate(1288.40,191.05) rotate(-90)" font-size="25.8" text-anchor="middle" >Annexin V Positive RBCs</text>
<text transform="translate(1317.00,189.25) rotate(-90)" font-size="26.05" text-anchor="middle" >Relative to Control Average</text>
<text x="1257.50" y="447.20" font-size="25.3" text-anchor="start" font-weight="bold" >c)</text>
</g>
</svg>
</body>
</html>
